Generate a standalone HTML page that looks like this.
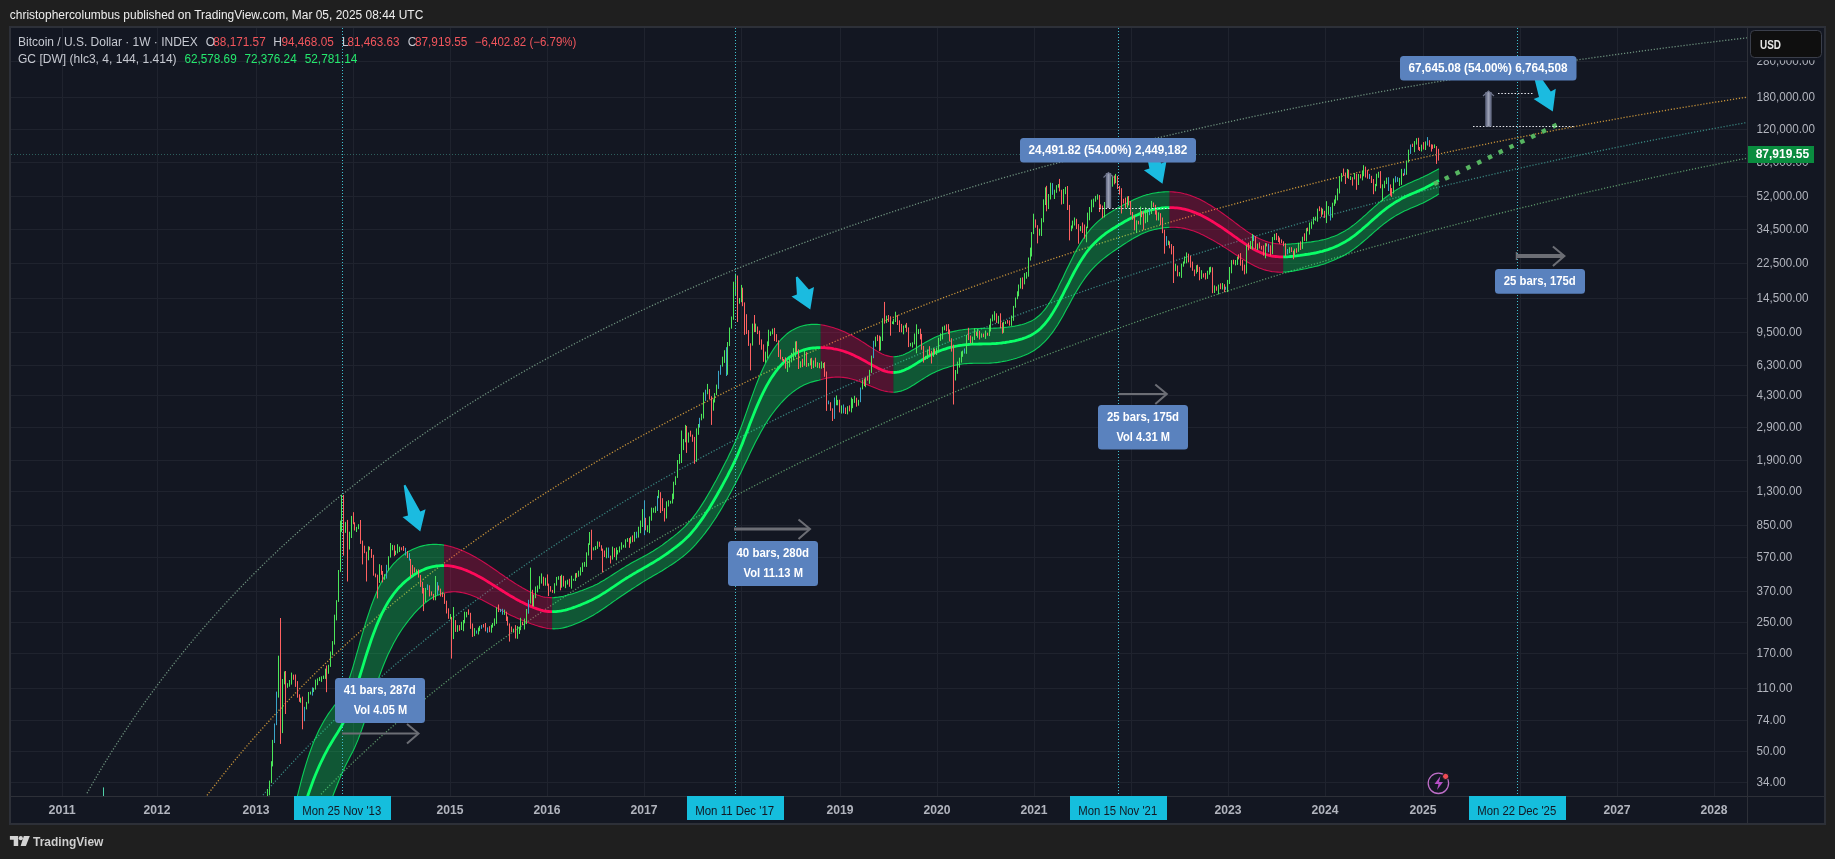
<!DOCTYPE html>
<html><head><meta charset="utf-8"><title>BTCUSD chart</title>
<style>
html,body{margin:0;padding:0;background:#1f1f1f;width:1835px;height:859px;overflow:hidden}
svg{position:absolute;left:0;top:0;font-family:"Liberation Sans",sans-serif;will-change:transform}
text{white-space:pre}
</style></head><body>
<svg width="1835" height="859" viewBox="0 0 1835 859">
<rect x="9" y="26" width="1817" height="799" fill="#2d3038"/>
<rect x="11" y="28" width="1813" height="795" fill="#131722"/>
<g>
<path d="M62.5 28V796M157.5 28V796M256.5 28V796M353.5 28V796M450.5 28V796M547.5 28V796M644.5 28V796M741.5 28V796M840.5 28V796M937.5 28V796M1034.5 28V796M1131.5 28V796M1228.5 28V796M1325.5 28V796M1423.5 28V796M1520.5 28V796M1617.5 28V796M1714.5 28V796M11 61.5H1747M11 97.5H1747M11 129.5H1747M11 162.5H1747M11 196.5H1747M11 229.5H1747M11 263.5H1747M11 298.5H1747M11 332.5H1747M11 365.5H1747M11 395.5H1747M11 427.5H1747M11 460.5H1747M11 491.5H1747M11 525.5H1747M11 557.5H1747M11 591.5H1747M11 622.5H1747M11 653.5H1747M11 688.5H1747M11 720.5H1747M11 751.5H1747M11 782.5H1747" stroke="#1f232e" stroke-width="1" fill="none"/>
<path d="M87.0 793.2L89.0 789.7L91.0 786.2L93.0 782.7L95.0 779.3L97.0 775.9L99.0 772.5L101.0 769.2L103.0 765.8L105.0 762.5L107.0 759.3L109.0 756.0L111.0 752.8L113.0 749.7L115.0 746.5L117.0 743.4L119.0 740.3L121.0 737.2L123.0 734.1L125.0 731.1L127.0 728.1L129.0 725.1L131.0 722.2L133.0 719.2L135.0 716.3L137.0 713.4L139.0 710.6L141.0 707.7L143.0 704.9L145.0 702.1L147.0 699.3L149.0 696.5L151.0 693.8L153.0 691.1L155.0 688.3L157.0 685.7L159.0 683.0L161.0 680.3L163.0 677.7L165.0 675.1L167.0 672.5L169.0 669.9L171.0 667.3L173.0 664.8L175.0 662.3L177.0 659.8L179.0 657.3L181.0 654.8L183.0 652.3L185.0 649.9L187.0 647.4L189.0 645.0L191.0 642.6L193.0 640.2L195.0 637.8L197.0 635.5L199.0 633.1L201.0 630.8L203.0 628.5L205.0 626.2L207.0 623.9L209.0 621.6L211.0 619.4L213.0 617.1L215.0 614.9L217.0 612.7L219.0 610.5L221.0 608.3L223.0 606.1L225.0 603.9L227.0 601.7L229.0 599.6L231.0 597.5L233.0 595.3L235.0 593.2L237.0 591.1L239.0 589.0L241.0 587.0L243.0 584.9L245.0 582.8L247.0 580.8L249.0 578.8L251.0 576.7L253.0 574.7L255.0 572.7L257.0 570.7L259.0 568.8L261.0 566.8L263.0 564.8L265.0 562.9L267.0 560.9L269.0 559.0L271.0 557.1L273.0 555.2L275.0 553.3L277.0 551.4L279.0 549.5L281.0 547.6L283.0 545.8L285.0 543.9L287.0 542.1L289.0 540.2L291.0 538.4L293.0 536.6L295.0 534.8L297.0 533.0L299.0 531.2L301.0 529.4L303.0 527.6L305.0 525.9L307.0 524.1L309.0 522.4L311.0 520.6L313.0 518.9L315.0 517.2L317.0 515.5L319.0 513.7L321.0 512.0L323.0 510.3L325.0 508.7L327.0 507.0L329.0 505.3L331.0 503.6L333.0 502.0L335.0 500.3L337.0 498.7L339.0 497.1L341.0 495.4L343.0 493.8L345.0 492.2L347.0 490.6L349.0 489.0L351.0 487.4L353.0 485.8L355.0 484.3L357.0 482.7L359.0 481.1L361.0 479.6L363.0 478.0L365.0 476.5L367.0 474.9L369.0 473.4L371.0 471.9L373.0 470.4L375.0 468.8L377.0 467.3L379.0 465.8L381.0 464.4L383.0 462.9L385.0 461.4L387.0 459.9L389.0 458.4L391.0 457.0L393.0 455.5L395.0 454.1L397.0 452.6L399.0 451.2L401.0 449.8L403.0 448.3L405.0 446.9L407.0 445.5L409.0 444.1L411.0 442.7L413.0 441.3L415.0 439.9L417.0 438.5L419.0 437.1L421.0 435.7L423.0 434.4L425.0 433.0L427.0 431.6L429.0 430.3L431.0 428.9L433.0 427.6L435.0 426.2L437.0 424.9L439.0 423.6L441.0 422.2L443.0 420.9L445.0 419.6L447.0 418.3L449.0 417.0L451.0 415.7L453.0 414.4L455.0 413.1L457.0 411.8L459.0 410.5L461.0 409.3L463.0 408.0L465.0 406.7L467.0 405.5L469.0 404.2L471.0 403.0L473.0 401.7L475.0 400.5L477.0 399.2L479.0 398.0L481.0 396.8L483.0 395.5L485.0 394.3L487.0 393.1L489.0 391.9L491.0 390.7L493.0 389.5L495.0 388.3L497.0 387.1L499.0 385.9L501.0 384.7L503.0 383.5L505.0 382.3L507.0 381.2L509.0 380.0L511.0 378.8L513.0 377.7L515.0 376.5L517.0 375.3L519.0 374.2L521.0 373.0L523.0 371.9L525.0 370.8L527.0 369.6L529.0 368.5L531.0 367.4L533.0 366.2L535.0 365.1L537.0 364.0L539.0 362.9L541.0 361.8L543.0 360.7L545.0 359.6L547.0 358.5L549.0 357.4L551.0 356.3L553.0 355.2L555.0 354.1L557.0 353.1L559.0 352.0L561.0 350.9L563.0 349.9L565.0 348.8L567.0 347.7L569.0 346.7L571.0 345.6L573.0 344.6L575.0 343.5L577.0 342.5L579.0 341.4L581.0 340.4L583.0 339.4L585.0 338.3L587.0 337.3L589.0 336.3L591.0 335.3L593.0 334.3L595.0 333.2L597.0 332.2L599.0 331.2L601.0 330.2L603.0 329.2L605.0 328.2L607.0 327.2L609.0 326.2L611.0 325.2L613.0 324.3L615.0 323.3L617.0 322.3L619.0 321.3L621.0 320.4L623.0 319.4L625.0 318.4L627.0 317.5L629.0 316.5L631.0 315.5L633.0 314.6L635.0 313.6L637.0 312.7L639.0 311.7L641.0 310.8L643.0 309.9L645.0 308.9L647.0 308.0L649.0 307.1L651.0 306.1L653.0 305.2L655.0 304.3L657.0 303.4L659.0 302.4L661.0 301.5L663.0 300.6L665.0 299.7L667.0 298.8L669.0 297.9L671.0 297.0L673.0 296.1L675.0 295.2L677.0 294.3L679.0 293.4L681.0 292.5L683.0 291.7L685.0 290.8L687.0 289.9L689.0 289.0L691.0 288.2L693.0 287.3L695.0 286.4L697.0 285.6L699.0 284.7L701.0 283.8L703.0 283.0L705.0 282.1L707.0 281.3L709.0 280.4L711.0 279.6L713.0 278.7L715.0 277.9L717.0 277.0L719.0 276.2L721.0 275.4L723.0 274.5L725.0 273.7L727.0 272.9L729.0 272.0L731.0 271.2L733.0 270.4L735.0 269.6L737.0 268.8L739.0 267.9L741.0 267.1L743.0 266.3L745.0 265.5L747.0 264.7L749.0 263.9L751.0 263.1L753.0 262.3L755.0 261.5L757.0 260.7L759.0 259.9L761.0 259.1L763.0 258.4L765.0 257.6L767.0 256.8L769.0 256.0L771.0 255.2L773.0 254.5L775.0 253.7L777.0 252.9L779.0 252.1L781.0 251.4L783.0 250.6L785.0 249.9L787.0 249.1L789.0 248.3L791.0 247.6L793.0 246.8L795.0 246.1L797.0 245.3L799.0 244.6L801.0 243.8L803.0 243.1L805.0 242.3L807.0 241.6L809.0 240.9L811.0 240.1L813.0 239.4L815.0 238.7L817.0 237.9L819.0 237.2L821.0 236.5L823.0 235.8L825.0 235.0L827.0 234.3L829.0 233.6L831.0 232.9L833.0 232.2L835.0 231.5L837.0 230.8L839.0 230.0L841.0 229.3L843.0 228.6L845.0 227.9L847.0 227.2L849.0 226.5L851.0 225.8L853.0 225.1L855.0 224.5L857.0 223.8L859.0 223.1L861.0 222.4L863.0 221.7L865.0 221.0L867.0 220.3L869.0 219.7L871.0 219.0L873.0 218.3L875.0 217.6L877.0 217.0L879.0 216.3L881.0 215.6L883.0 215.0L885.0 214.3L887.0 213.6L889.0 213.0L891.0 212.3L893.0 211.6L895.0 211.0L897.0 210.3L899.0 209.7L901.0 209.0L903.0 208.4L905.0 207.7L907.0 207.1L909.0 206.4L911.0 205.8L913.0 205.2L915.0 204.5L917.0 203.9L919.0 203.2L921.0 202.6L923.0 202.0L925.0 201.3L927.0 200.7L929.0 200.1L931.0 199.5L933.0 198.8L935.0 198.2L937.0 197.6L939.0 197.0L941.0 196.4L943.0 195.7L945.0 195.1L947.0 194.5L949.0 193.9L951.0 193.3L953.0 192.7L955.0 192.1L957.0 191.5L959.0 190.9L961.0 190.3L963.0 189.7L965.0 189.1L967.0 188.5L969.0 187.9L971.0 187.3L973.0 186.7L975.0 186.1L977.0 185.5L979.0 184.9L981.0 184.3L983.0 183.7L985.0 183.1L987.0 182.6L989.0 182.0L991.0 181.4L993.0 180.8L995.0 180.3L997.0 179.7L999.0 179.1L1001.0 178.5L1003.0 178.0L1005.0 177.4L1007.0 176.8L1009.0 176.3L1011.0 175.7L1013.0 175.1L1015.0 174.6L1017.0 174.0L1019.0 173.4L1021.0 172.9L1023.0 172.3L1025.0 171.8L1027.0 171.2L1029.0 170.7L1031.0 170.1L1033.0 169.6L1035.0 169.0L1037.0 168.5L1039.0 167.9L1041.0 167.4L1043.0 166.8L1045.0 166.3L1047.0 165.8L1049.0 165.2L1051.0 164.7L1053.0 164.1L1055.0 163.6L1057.0 163.1L1059.0 162.5L1061.0 162.0L1063.0 161.5L1065.0 161.0L1067.0 160.4L1069.0 159.9L1071.0 159.4L1073.0 158.9L1075.0 158.3L1077.0 157.8L1079.0 157.3L1081.0 156.8L1083.0 156.3L1085.0 155.7L1087.0 155.2L1089.0 154.7L1091.0 154.2L1093.0 153.7L1095.0 153.2L1097.0 152.7L1099.0 152.2L1101.0 151.7L1103.0 151.2L1105.0 150.7L1107.0 150.2L1109.0 149.7L1111.0 149.2L1113.0 148.7L1115.0 148.2L1117.0 147.7L1119.0 147.2L1121.0 146.7L1123.0 146.2L1125.0 145.7L1127.0 145.2L1129.0 144.7L1131.0 144.2L1133.0 143.7L1135.0 143.3L1137.0 142.8L1139.0 142.3L1141.0 141.8L1143.0 141.3L1145.0 140.9L1147.0 140.4L1149.0 139.9L1151.0 139.4L1153.0 139.0L1155.0 138.5L1157.0 138.0L1159.0 137.5L1161.0 137.1L1163.0 136.6L1165.0 136.1L1167.0 135.7L1169.0 135.2L1171.0 134.7L1173.0 134.3L1175.0 133.8L1177.0 133.3L1179.0 132.9L1181.0 132.4L1183.0 132.0L1185.0 131.5L1187.0 131.1L1189.0 130.6L1191.0 130.2L1193.0 129.7L1195.0 129.3L1197.0 128.8L1199.0 128.4L1201.0 127.9L1203.0 127.5L1205.0 127.0L1207.0 126.6L1209.0 126.1L1211.0 125.7L1213.0 125.2L1215.0 124.8L1217.0 124.4L1219.0 123.9L1221.0 123.5L1223.0 123.1L1225.0 122.6L1227.0 122.2L1229.0 121.8L1231.0 121.3L1233.0 120.9L1235.0 120.5L1237.0 120.0L1239.0 119.6L1241.0 119.2L1243.0 118.8L1245.0 118.3L1247.0 117.9L1249.0 117.5L1251.0 117.1L1253.0 116.6L1255.0 116.2L1257.0 115.8L1259.0 115.4L1261.0 115.0L1263.0 114.5L1265.0 114.1L1267.0 113.7L1269.0 113.3L1271.0 112.9L1273.0 112.5L1275.0 112.1L1277.0 111.7L1279.0 111.3L1281.0 110.9L1283.0 110.4L1285.0 110.0L1287.0 109.6L1289.0 109.2L1291.0 108.8L1293.0 108.4L1295.0 108.0L1297.0 107.6L1299.0 107.2L1301.0 106.8L1303.0 106.4L1305.0 106.0L1307.0 105.6L1309.0 105.3L1311.0 104.9L1313.0 104.5L1315.0 104.1L1317.0 103.7L1319.0 103.3L1321.0 102.9L1323.0 102.5L1325.0 102.1L1327.0 101.8L1329.0 101.4L1331.0 101.0L1333.0 100.6L1335.0 100.2L1337.0 99.8L1339.0 99.5L1341.0 99.1L1343.0 98.7L1345.0 98.3L1347.0 97.9L1349.0 97.6L1351.0 97.2L1353.0 96.8L1355.0 96.4L1357.0 96.1L1359.0 95.7L1361.0 95.3L1363.0 95.0L1365.0 94.6L1367.0 94.2L1369.0 93.9L1371.0 93.5L1373.0 93.1L1375.0 92.8L1377.0 92.4L1379.0 92.0L1381.0 91.7L1383.0 91.3L1385.0 91.0L1387.0 90.6L1389.0 90.2L1391.0 89.9L1393.0 89.5L1395.0 89.2L1397.0 88.8L1399.0 88.5L1401.0 88.1L1403.0 87.7L1405.0 87.4L1407.0 87.0L1409.0 86.7L1411.0 86.3L1413.0 86.0L1415.0 85.7L1417.0 85.3L1419.0 85.0L1421.0 84.6L1423.0 84.3L1425.0 83.9L1427.0 83.6L1429.0 83.2L1431.0 82.9L1433.0 82.6L1435.0 82.2L1437.0 81.9L1439.0 81.5L1441.0 81.2L1443.0 80.9L1445.0 80.5L1447.0 80.2L1449.0 79.9L1451.0 79.5L1453.0 79.2L1455.0 78.9L1457.0 78.5L1459.0 78.2L1461.0 77.9L1463.0 77.5L1465.0 77.2L1467.0 76.9L1469.0 76.6L1471.0 76.2L1473.0 75.9L1475.0 75.6L1477.0 75.3L1479.0 74.9L1481.0 74.6L1483.0 74.3L1485.0 74.0L1487.0 73.7L1489.0 73.3L1491.0 73.0L1493.0 72.7L1495.0 72.4L1497.0 72.1L1499.0 71.7L1501.0 71.4L1503.0 71.1L1505.0 70.8L1507.0 70.5L1509.0 70.2L1511.0 69.9L1513.0 69.6L1515.0 69.3L1517.0 68.9L1519.0 68.6L1521.0 68.3L1523.0 68.0L1525.0 67.7L1527.0 67.4L1529.0 67.1L1531.0 66.8L1533.0 66.5L1535.0 66.2L1537.0 65.9L1539.0 65.6L1541.0 65.3L1543.0 65.0L1545.0 64.7L1547.0 64.4L1549.0 64.1L1551.0 63.8L1553.0 63.5L1555.0 63.2L1557.0 62.9L1559.0 62.6L1561.0 62.3L1563.0 62.0L1565.0 61.7L1567.0 61.4L1569.0 61.2L1571.0 60.9L1573.0 60.6L1575.0 60.3L1577.0 60.0L1579.0 59.7L1581.0 59.4L1583.0 59.1L1585.0 58.9L1587.0 58.6L1589.0 58.3L1591.0 58.0L1593.0 57.7L1595.0 57.4L1597.0 57.2L1599.0 56.9L1601.0 56.6L1603.0 56.3L1605.0 56.0L1607.0 55.8L1609.0 55.5L1611.0 55.2L1613.0 54.9L1615.0 54.7L1617.0 54.4L1619.0 54.1L1621.0 53.8L1623.0 53.6L1625.0 53.3L1627.0 53.0L1629.0 52.7L1631.0 52.5L1633.0 52.2L1635.0 51.9L1637.0 51.7L1639.0 51.4L1641.0 51.1L1643.0 50.9L1645.0 50.6L1647.0 50.3L1649.0 50.1L1651.0 49.8L1653.0 49.5L1655.0 49.3L1657.0 49.0L1659.0 48.7L1661.0 48.5L1663.0 48.2L1665.0 48.0L1667.0 47.7L1669.0 47.4L1671.0 47.2L1673.0 46.9L1675.0 46.7L1677.0 46.4L1679.0 46.2L1681.0 45.9L1683.0 45.7L1685.0 45.4L1687.0 45.1L1689.0 44.9L1691.0 44.6L1693.0 44.4L1695.0 44.1L1697.0 43.9L1699.0 43.6L1701.0 43.4L1703.0 43.1L1705.0 42.9L1707.0 42.6L1709.0 42.4L1711.0 42.2L1713.0 41.9L1715.0 41.7L1717.0 41.4L1719.0 41.2L1721.0 40.9L1723.0 40.7L1725.0 40.4L1727.0 40.2L1729.0 40.0L1731.0 39.7L1733.0 39.5L1735.0 39.2L1737.0 39.0L1739.0 38.8L1741.0 38.5L1743.0 38.3L1745.0 38.1L1747.0 37.8" stroke="#6f937f" stroke-width="1.3" stroke-dasharray="1.2 1.8" fill="none"/>
<path d="M207.0 795.4L209.0 792.7L211.0 790.1L213.0 787.5L215.0 785.0L217.0 782.4L219.0 779.9L221.0 777.3L223.0 774.8L225.0 772.3L227.0 769.9L229.0 767.4L231.0 765.0L233.0 762.5L235.0 760.1L237.0 757.7L239.0 755.3L241.0 752.9L243.0 750.6L245.0 748.2L247.0 745.9L249.0 743.6L251.0 741.3L253.0 739.0L255.0 736.7L257.0 734.4L259.0 732.2L261.0 729.9L263.0 727.7L265.0 725.5L267.0 723.3L269.0 721.1L271.0 718.9L273.0 716.7L275.0 714.5L277.0 712.4L279.0 710.2L281.0 708.1L283.0 706.0L285.0 703.9L287.0 701.8L289.0 699.7L291.0 697.6L293.0 695.6L295.0 693.5L297.0 691.5L299.0 689.4L301.0 687.4L303.0 685.4L305.0 683.4L307.0 681.4L309.0 679.4L311.0 677.4L313.0 675.5L315.0 673.5L317.0 671.6L319.0 669.6L321.0 667.7L323.0 665.8L325.0 663.9L327.0 662.0L329.0 660.1L331.0 658.2L333.0 656.3L335.0 654.4L337.0 652.6L339.0 650.7L341.0 648.9L343.0 647.0L345.0 645.2L347.0 643.4L349.0 641.6L351.0 639.8L353.0 638.0L355.0 636.2L357.0 634.4L359.0 632.6L361.0 630.8L363.0 629.1L365.0 627.3L367.0 625.6L369.0 623.8L371.0 622.1L373.0 620.4L375.0 618.7L377.0 616.9L379.0 615.2L381.0 613.5L383.0 611.8L385.0 610.2L387.0 608.5L389.0 606.8L391.0 605.1L393.0 603.5L395.0 601.8L397.0 600.2L399.0 598.6L401.0 596.9L403.0 595.3L405.0 593.7L407.0 592.1L409.0 590.5L411.0 588.8L413.0 587.3L415.0 585.7L417.0 584.1L419.0 582.5L421.0 580.9L423.0 579.4L425.0 577.8L427.0 576.2L429.0 574.7L431.0 573.1L433.0 571.6L435.0 570.1L437.0 568.6L439.0 567.0L441.0 565.5L443.0 564.0L445.0 562.5L447.0 561.0L449.0 559.5L451.0 558.0L453.0 556.5L455.0 555.0L457.0 553.6L459.0 552.1L461.0 550.6L463.0 549.2L465.0 547.7L467.0 546.3L469.0 544.8L471.0 543.4L473.0 542.0L475.0 540.5L477.0 539.1L479.0 537.7L481.0 536.3L483.0 534.9L485.0 533.5L487.0 532.0L489.0 530.7L491.0 529.3L493.0 527.9L495.0 526.5L497.0 525.1L499.0 523.7L501.0 522.4L503.0 521.0L505.0 519.6L507.0 518.3L509.0 516.9L511.0 515.6L513.0 514.2L515.0 512.9L517.0 511.6L519.0 510.2L521.0 508.9L523.0 507.6L525.0 506.3L527.0 505.0L529.0 503.7L531.0 502.3L533.0 501.0L535.0 499.8L537.0 498.5L539.0 497.2L541.0 495.9L543.0 494.6L545.0 493.3L547.0 492.1L549.0 490.8L551.0 489.5L553.0 488.3L555.0 487.0L557.0 485.7L559.0 484.5L561.0 483.2L563.0 482.0L565.0 480.8L567.0 479.5L569.0 478.3L571.0 477.1L573.0 475.8L575.0 474.6L577.0 473.4L579.0 472.2L581.0 471.0L583.0 469.8L585.0 468.6L587.0 467.4L589.0 466.2L591.0 465.0L593.0 463.8L595.0 462.6L597.0 461.4L599.0 460.3L601.0 459.1L603.0 457.9L605.0 456.7L607.0 455.6L609.0 454.4L611.0 453.3L613.0 452.1L615.0 451.0L617.0 449.8L619.0 448.7L621.0 447.5L623.0 446.4L625.0 445.2L627.0 444.1L629.0 443.0L631.0 441.9L633.0 440.7L635.0 439.6L637.0 438.5L639.0 437.4L641.0 436.3L643.0 435.2L645.0 434.1L647.0 433.0L649.0 431.9L651.0 430.8L653.0 429.7L655.0 428.6L657.0 427.5L659.0 426.4L661.0 425.3L663.0 424.3L665.0 423.2L667.0 422.1L669.0 421.1L671.0 420.0L673.0 418.9L675.0 417.9L677.0 416.8L679.0 415.8L681.0 414.7L683.0 413.7L685.0 412.6L687.0 411.6L689.0 410.5L691.0 409.5L693.0 408.5L695.0 407.4L697.0 406.4L699.0 405.4L701.0 404.4L703.0 403.3L705.0 402.3L707.0 401.3L709.0 400.3L711.0 399.3L713.0 398.3L715.0 397.3L717.0 396.3L719.0 395.3L721.0 394.3L723.0 393.3L725.0 392.3L727.0 391.3L729.0 390.3L731.0 389.3L733.0 388.3L735.0 387.4L737.0 386.4L739.0 385.4L741.0 384.5L743.0 383.5L745.0 382.5L747.0 381.6L749.0 380.6L751.0 379.6L753.0 378.7L755.0 377.7L757.0 376.8L759.0 375.8L761.0 374.9L763.0 373.9L765.0 373.0L767.0 372.1L769.0 371.1L771.0 370.2L773.0 369.3L775.0 368.3L777.0 367.4L779.0 366.5L781.0 365.5L783.0 364.6L785.0 363.7L787.0 362.8L789.0 361.9L791.0 361.0L793.0 360.1L795.0 359.2L797.0 358.3L799.0 357.4L801.0 356.5L803.0 355.6L805.0 354.7L807.0 353.8L809.0 352.9L811.0 352.0L813.0 351.1L815.0 350.2L817.0 349.3L819.0 348.5L821.0 347.6L823.0 346.7L825.0 345.8L827.0 345.0L829.0 344.1L831.0 343.2L833.0 342.4L835.0 341.5L837.0 340.6L839.0 339.8L841.0 338.9L843.0 338.1L845.0 337.2L847.0 336.4L849.0 335.5L851.0 334.7L853.0 333.8L855.0 333.0L857.0 332.1L859.0 331.3L861.0 330.5L863.0 329.6L865.0 328.8L867.0 328.0L869.0 327.1L871.0 326.3L873.0 325.5L875.0 324.7L877.0 323.9L879.0 323.0L881.0 322.2L883.0 321.4L885.0 320.6L887.0 319.8L889.0 319.0L891.0 318.2L893.0 317.4L895.0 316.6L897.0 315.8L899.0 315.0L901.0 314.2L903.0 313.4L905.0 312.6L907.0 311.8L909.0 311.0L911.0 310.2L913.0 309.4L915.0 308.7L917.0 307.9L919.0 307.1L921.0 306.3L923.0 305.5L925.0 304.8L927.0 304.0L929.0 303.2L931.0 302.4L933.0 301.7L935.0 300.9L937.0 300.2L939.0 299.4L941.0 298.6L943.0 297.9L945.0 297.1L947.0 296.4L949.0 295.6L951.0 294.9L953.0 294.1L955.0 293.4L957.0 292.6L959.0 291.9L961.0 291.1L963.0 290.4L965.0 289.7L967.0 288.9L969.0 288.2L971.0 287.4L973.0 286.7L975.0 286.0L977.0 285.3L979.0 284.5L981.0 283.8L983.0 283.1L985.0 282.4L987.0 281.6L989.0 280.9L991.0 280.2L993.0 279.5L995.0 278.8L997.0 278.1L999.0 277.4L1001.0 276.6L1003.0 275.9L1005.0 275.2L1007.0 274.5L1009.0 273.8L1011.0 273.1L1013.0 272.4L1015.0 271.7L1017.0 271.0L1019.0 270.3L1021.0 269.6L1023.0 269.0L1025.0 268.3L1027.0 267.6L1029.0 266.9L1031.0 266.2L1033.0 265.5L1035.0 264.8L1037.0 264.2L1039.0 263.5L1041.0 262.8L1043.0 262.1L1045.0 261.5L1047.0 260.8L1049.0 260.1L1051.0 259.4L1053.0 258.8L1055.0 258.1L1057.0 257.4L1059.0 256.8L1061.0 256.1L1063.0 255.5L1065.0 254.8L1067.0 254.1L1069.0 253.5L1071.0 252.8L1073.0 252.2L1075.0 251.5L1077.0 250.9L1079.0 250.2L1081.0 249.6L1083.0 248.9L1085.0 248.3L1087.0 247.6L1089.0 247.0L1091.0 246.4L1093.0 245.7L1095.0 245.1L1097.0 244.5L1099.0 243.8L1101.0 243.2L1103.0 242.6L1105.0 241.9L1107.0 241.3L1109.0 240.7L1111.0 240.0L1113.0 239.4L1115.0 238.8L1117.0 238.2L1119.0 237.6L1121.0 236.9L1123.0 236.3L1125.0 235.7L1127.0 235.1L1129.0 234.5L1131.0 233.9L1133.0 233.3L1135.0 232.6L1137.0 232.0L1139.0 231.4L1141.0 230.8L1143.0 230.2L1145.0 229.6L1147.0 229.0L1149.0 228.4L1151.0 227.8L1153.0 227.2L1155.0 226.6L1157.0 226.0L1159.0 225.4L1161.0 224.8L1163.0 224.3L1165.0 223.7L1167.0 223.1L1169.0 222.5L1171.0 221.9L1173.0 221.3L1175.0 220.7L1177.0 220.2L1179.0 219.6L1181.0 219.0L1183.0 218.4L1185.0 217.8L1187.0 217.3L1189.0 216.7L1191.0 216.1L1193.0 215.6L1195.0 215.0L1197.0 214.4L1199.0 213.8L1201.0 213.3L1203.0 212.7L1205.0 212.2L1207.0 211.6L1209.0 211.0L1211.0 210.5L1213.0 209.9L1215.0 209.4L1217.0 208.8L1219.0 208.2L1221.0 207.7L1223.0 207.1L1225.0 206.6L1227.0 206.0L1229.0 205.5L1231.0 204.9L1233.0 204.4L1235.0 203.8L1237.0 203.3L1239.0 202.8L1241.0 202.2L1243.0 201.7L1245.0 201.1L1247.0 200.6L1249.0 200.1L1251.0 199.5L1253.0 199.0L1255.0 198.5L1257.0 197.9L1259.0 197.4L1261.0 196.9L1263.0 196.3L1265.0 195.8L1267.0 195.3L1269.0 194.8L1271.0 194.2L1273.0 193.7L1275.0 193.2L1277.0 192.7L1279.0 192.1L1281.0 191.6L1283.0 191.1L1285.0 190.6L1287.0 190.1L1289.0 189.6L1291.0 189.0L1293.0 188.5L1295.0 188.0L1297.0 187.5L1299.0 187.0L1301.0 186.5L1303.0 186.0L1305.0 185.5L1307.0 185.0L1309.0 184.5L1311.0 184.0L1313.0 183.5L1315.0 183.0L1317.0 182.5L1319.0 182.0L1321.0 181.5L1323.0 181.0L1325.0 180.5L1327.0 180.0L1329.0 179.5L1331.0 179.0L1333.0 178.5L1335.0 178.0L1337.0 177.6L1339.0 177.1L1341.0 176.6L1343.0 176.1L1345.0 175.6L1347.0 175.1L1349.0 174.7L1351.0 174.2L1353.0 173.7L1355.0 173.2L1357.0 172.7L1359.0 172.3L1361.0 171.8L1363.0 171.3L1365.0 170.8L1367.0 170.4L1369.0 169.9L1371.0 169.4L1373.0 169.0L1375.0 168.5L1377.0 168.0L1379.0 167.6L1381.0 167.1L1383.0 166.6L1385.0 166.2L1387.0 165.7L1389.0 165.2L1391.0 164.8L1393.0 164.3L1395.0 163.9L1397.0 163.4L1399.0 163.0L1401.0 162.5L1403.0 162.0L1405.0 161.6L1407.0 161.1L1409.0 160.7L1411.0 160.2L1413.0 159.8L1415.0 159.3L1417.0 158.9L1419.0 158.5L1421.0 158.0L1423.0 157.6L1425.0 157.1L1427.0 156.7L1429.0 156.2L1431.0 155.8L1433.0 155.4L1435.0 154.9L1437.0 154.5L1439.0 154.0L1441.0 153.6L1443.0 153.2L1445.0 152.7L1447.0 152.3L1449.0 151.9L1451.0 151.4L1453.0 151.0L1455.0 150.6L1457.0 150.2L1459.0 149.7L1461.0 149.3L1463.0 148.9L1465.0 148.5L1467.0 148.0L1469.0 147.6L1471.0 147.2L1473.0 146.8L1475.0 146.4L1477.0 145.9L1479.0 145.5L1481.0 145.1L1483.0 144.7L1485.0 144.3L1487.0 143.9L1489.0 143.4L1491.0 143.0L1493.0 142.6L1495.0 142.2L1497.0 141.8L1499.0 141.4L1501.0 141.0L1503.0 140.6L1505.0 140.2L1507.0 139.8L1509.0 139.4L1511.0 139.0L1513.0 138.6L1515.0 138.2L1517.0 137.8L1519.0 137.4L1521.0 137.0L1523.0 136.6L1525.0 136.2L1527.0 135.8L1529.0 135.4L1531.0 135.0L1533.0 134.6L1535.0 134.2L1537.0 133.8L1539.0 133.4L1541.0 133.0L1543.0 132.6L1545.0 132.2L1547.0 131.9L1549.0 131.5L1551.0 131.1L1553.0 130.7L1555.0 130.3L1557.0 129.9L1559.0 129.5L1561.0 129.2L1563.0 128.8L1565.0 128.4L1567.0 128.0L1569.0 127.7L1571.0 127.3L1573.0 126.9L1575.0 126.5L1577.0 126.1L1579.0 125.8L1581.0 125.4L1583.0 125.0L1585.0 124.7L1587.0 124.3L1589.0 123.9L1591.0 123.5L1593.0 123.2L1595.0 122.8L1597.0 122.4L1599.0 122.1L1601.0 121.7L1603.0 121.3L1605.0 121.0L1607.0 120.6L1609.0 120.3L1611.0 119.9L1613.0 119.5L1615.0 119.2L1617.0 118.8L1619.0 118.5L1621.0 118.1L1623.0 117.8L1625.0 117.4L1627.0 117.0L1629.0 116.7L1631.0 116.3L1633.0 116.0L1635.0 115.6L1637.0 115.3L1639.0 114.9L1641.0 114.6L1643.0 114.2L1645.0 113.9L1647.0 113.5L1649.0 113.2L1651.0 112.9L1653.0 112.5L1655.0 112.2L1657.0 111.8L1659.0 111.5L1661.0 111.1L1663.0 110.8L1665.0 110.5L1667.0 110.1L1669.0 109.8L1671.0 109.4L1673.0 109.1L1675.0 108.8L1677.0 108.4L1679.0 108.1L1681.0 107.8L1683.0 107.4L1685.0 107.1L1687.0 106.8L1689.0 106.4L1691.0 106.1L1693.0 105.8L1695.0 105.5L1697.0 105.1L1699.0 104.8L1701.0 104.5L1703.0 104.1L1705.0 103.8L1707.0 103.5L1709.0 103.2L1711.0 102.9L1713.0 102.5L1715.0 102.2L1717.0 101.9L1719.0 101.6L1721.0 101.3L1723.0 100.9L1725.0 100.6L1727.0 100.3L1729.0 100.0L1731.0 99.7L1733.0 99.4L1735.0 99.0L1737.0 98.7L1739.0 98.4L1741.0 98.1L1743.0 97.8L1745.0 97.5L1747.0 97.2" stroke="#c8943a" stroke-width="1.3" stroke-dasharray="1.2 1.8" fill="none"/>
<path d="M263.0 795.0L265.0 792.8L267.0 790.5L269.0 788.2L271.0 786.0L273.0 783.7L275.0 781.5L277.0 779.3L279.0 777.1L281.0 774.9L283.0 772.7L285.0 770.5L287.0 768.4L289.0 766.2L291.0 764.1L293.0 762.0L295.0 759.9L297.0 757.7L299.0 755.6L301.0 753.6L303.0 751.5L305.0 749.4L307.0 747.3L309.0 745.3L311.0 743.3L313.0 741.2L315.0 739.2L317.0 737.2L319.0 735.2L321.0 733.2L323.0 731.2L325.0 729.2L327.0 727.3L329.0 725.3L331.0 723.3L333.0 721.4L335.0 719.5L337.0 717.5L339.0 715.6L341.0 713.7L343.0 711.8L345.0 709.9L347.0 708.0L349.0 706.1L351.0 704.3L353.0 702.4L355.0 700.5L357.0 698.7L359.0 696.9L361.0 695.0L363.0 693.2L365.0 691.4L367.0 689.6L369.0 687.8L371.0 686.0L373.0 684.2L375.0 682.4L377.0 680.6L379.0 678.8L381.0 677.1L383.0 675.3L385.0 673.6L387.0 671.8L389.0 670.1L391.0 668.4L393.0 666.6L395.0 664.9L397.0 663.2L399.0 661.5L401.0 659.8L403.0 658.1L405.0 656.4L407.0 654.8L409.0 653.1L411.0 651.4L413.0 649.8L415.0 648.1L417.0 646.4L419.0 644.8L421.0 643.2L423.0 641.5L425.0 639.9L427.0 638.3L429.0 636.7L431.0 635.1L433.0 633.5L435.0 631.9L437.0 630.3L439.0 628.7L441.0 627.1L443.0 625.5L445.0 624.0L447.0 622.4L449.0 620.8L451.0 619.3L453.0 617.7L455.0 616.2L457.0 614.7L459.0 613.1L461.0 611.6L463.0 610.1L465.0 608.5L467.0 607.0L469.0 605.5L471.0 604.0L473.0 602.5L475.0 601.0L477.0 599.5L479.0 598.1L481.0 596.6L483.0 595.1L485.0 593.6L487.0 592.2L489.0 590.7L491.0 589.3L493.0 587.8L495.0 586.4L497.0 584.9L499.0 583.5L501.0 582.0L503.0 580.6L505.0 579.2L507.0 577.8L509.0 576.4L511.0 574.9L513.0 573.5L515.0 572.1L517.0 570.7L519.0 569.3L521.0 568.0L523.0 566.6L525.0 565.2L527.0 563.8L529.0 562.4L531.0 561.1L533.0 559.7L535.0 558.3L537.0 557.0L539.0 555.6L541.0 554.3L543.0 552.9L545.0 551.6L547.0 550.3L549.0 548.9L551.0 547.6L553.0 546.3L555.0 545.0L557.0 543.6L559.0 542.3L561.0 541.0L563.0 539.7L565.0 538.4L567.0 537.1L569.0 535.8L571.0 534.5L573.0 533.3L575.0 532.0L577.0 530.7L579.0 529.4L581.0 528.1L583.0 526.9L585.0 525.6L587.0 524.3L589.0 523.1L591.0 521.8L593.0 520.6L595.0 519.3L597.0 518.1L599.0 516.9L601.0 515.6L603.0 514.4L605.0 513.2L607.0 511.9L609.0 510.7L611.0 509.5L613.0 508.3L615.0 507.1L617.0 505.8L619.0 504.6L621.0 503.4L623.0 502.2L625.0 501.0L627.0 499.8L629.0 498.6L631.0 497.5L633.0 496.3L635.0 495.1L637.0 493.9L639.0 492.7L641.0 491.6L643.0 490.4L645.0 489.2L647.0 488.1L649.0 486.9L651.0 485.8L653.0 484.6L655.0 483.5L657.0 482.3L659.0 481.2L661.0 480.0L663.0 478.9L665.0 477.8L667.0 476.6L669.0 475.5L671.0 474.4L673.0 473.2L675.0 472.1L677.0 471.0L679.0 469.9L681.0 468.8L683.0 467.7L685.0 466.6L687.0 465.5L689.0 464.4L691.0 463.3L693.0 462.2L695.0 461.1L697.0 460.0L699.0 458.9L701.0 457.8L703.0 456.7L705.0 455.7L707.0 454.6L709.0 453.5L711.0 452.4L713.0 451.4L715.0 450.3L717.0 449.3L719.0 448.2L721.0 447.1L723.0 446.1L725.0 445.0L727.0 444.0L729.0 442.9L731.0 441.9L733.0 440.9L735.0 439.8L737.0 438.8L739.0 437.7L741.0 436.7L743.0 435.7L745.0 434.7L747.0 433.6L749.0 432.6L751.0 431.6L753.0 430.6L755.0 429.6L757.0 428.6L759.0 427.6L761.0 426.5L763.0 425.5L765.0 424.5L767.0 423.5L769.0 422.5L771.0 421.6L773.0 420.6L775.0 419.6L777.0 418.6L779.0 417.6L781.0 416.6L783.0 415.6L785.0 414.7L787.0 413.7L789.0 412.7L791.0 411.8L793.0 410.8L795.0 409.8L797.0 408.9L799.0 407.9L801.0 406.9L803.0 406.0L805.0 405.0L807.0 404.1L809.0 403.1L811.0 402.2L813.0 401.2L815.0 400.3L817.0 399.3L819.0 398.4L821.0 397.5L823.0 396.5L825.0 395.6L827.0 394.7L829.0 393.8L831.0 392.8L833.0 391.9L835.0 391.0L837.0 390.1L839.0 389.1L841.0 388.2L843.0 387.3L845.0 386.4L847.0 385.5L849.0 384.6L851.0 383.7L853.0 382.8L855.0 381.9L857.0 381.0L859.0 380.1L861.0 379.2L863.0 378.3L865.0 377.4L867.0 376.5L869.0 375.6L871.0 374.8L873.0 373.9L875.0 373.0L877.0 372.1L879.0 371.2L881.0 370.4L883.0 369.5L885.0 368.6L887.0 367.8L889.0 366.9L891.0 366.0L893.0 365.2L895.0 364.3L897.0 363.5L899.0 362.6L901.0 361.7L903.0 360.9L905.0 360.0L907.0 359.2L909.0 358.3L911.0 357.5L913.0 356.7L915.0 355.8L917.0 355.0L919.0 354.1L921.0 353.3L923.0 352.5L925.0 351.6L927.0 350.8L929.0 350.0L931.0 349.2L933.0 348.3L935.0 347.5L937.0 346.7L939.0 345.9L941.0 345.1L943.0 344.2L945.0 343.4L947.0 342.6L949.0 341.8L951.0 341.0L953.0 340.2L955.0 339.4L957.0 338.6L959.0 337.8L961.0 337.0L963.0 336.2L965.0 335.4L967.0 334.6L969.0 333.8L971.0 333.0L973.0 332.2L975.0 331.4L977.0 330.7L979.0 329.9L981.0 329.1L983.0 328.3L985.0 327.5L987.0 326.8L989.0 326.0L991.0 325.2L993.0 324.4L995.0 323.7L997.0 322.9L999.0 322.1L1001.0 321.4L1003.0 320.6L1005.0 319.8L1007.0 319.1L1009.0 318.3L1011.0 317.6L1013.0 316.8L1015.0 316.1L1017.0 315.3L1019.0 314.6L1021.0 313.8L1023.0 313.1L1025.0 312.3L1027.0 311.6L1029.0 310.8L1031.0 310.1L1033.0 309.4L1035.0 308.6L1037.0 307.9L1039.0 307.1L1041.0 306.4L1043.0 305.7L1045.0 305.0L1047.0 304.2L1049.0 303.5L1051.0 302.8L1053.0 302.1L1055.0 301.3L1057.0 300.6L1059.0 299.9L1061.0 299.2L1063.0 298.5L1065.0 297.7L1067.0 297.0L1069.0 296.3L1071.0 295.6L1073.0 294.9L1075.0 294.2L1077.0 293.5L1079.0 292.8L1081.0 292.1L1083.0 291.4L1085.0 290.7L1087.0 290.0L1089.0 289.3L1091.0 288.6L1093.0 287.9L1095.0 287.2L1097.0 286.5L1099.0 285.8L1101.0 285.1L1103.0 284.5L1105.0 283.8L1107.0 283.1L1109.0 282.4L1111.0 281.7L1113.0 281.0L1115.0 280.4L1117.0 279.7L1119.0 279.0L1121.0 278.3L1123.0 277.7L1125.0 277.0L1127.0 276.3L1129.0 275.7L1131.0 275.0L1133.0 274.3L1135.0 273.7L1137.0 273.0L1139.0 272.3L1141.0 271.7L1143.0 271.0L1145.0 270.4L1147.0 269.7L1149.0 269.1L1151.0 268.4L1153.0 267.8L1155.0 267.1L1157.0 266.5L1159.0 265.8L1161.0 265.2L1163.0 264.5L1165.0 263.9L1167.0 263.2L1169.0 262.6L1171.0 262.0L1173.0 261.3L1175.0 260.7L1177.0 260.0L1179.0 259.4L1181.0 258.8L1183.0 258.1L1185.0 257.5L1187.0 256.9L1189.0 256.3L1191.0 255.6L1193.0 255.0L1195.0 254.4L1197.0 253.8L1199.0 253.1L1201.0 252.5L1203.0 251.9L1205.0 251.3L1207.0 250.7L1209.0 250.1L1211.0 249.4L1213.0 248.8L1215.0 248.2L1217.0 247.6L1219.0 247.0L1221.0 246.4L1223.0 245.8L1225.0 245.2L1227.0 244.6L1229.0 244.0L1231.0 243.4L1233.0 242.8L1235.0 242.2L1237.0 241.6L1239.0 241.0L1241.0 240.4L1243.0 239.8L1245.0 239.2L1247.0 238.6L1249.0 238.0L1251.0 237.4L1253.0 236.8L1255.0 236.3L1257.0 235.7L1259.0 235.1L1261.0 234.5L1263.0 233.9L1265.0 233.3L1267.0 232.8L1269.0 232.2L1271.0 231.6L1273.0 231.0L1275.0 230.5L1277.0 229.9L1279.0 229.3L1281.0 228.7L1283.0 228.2L1285.0 227.6L1287.0 227.0L1289.0 226.5L1291.0 225.9L1293.0 225.3L1295.0 224.8L1297.0 224.2L1299.0 223.6L1301.0 223.1L1303.0 222.5L1305.0 222.0L1307.0 221.4L1309.0 220.9L1311.0 220.3L1313.0 219.7L1315.0 219.2L1317.0 218.6L1319.0 218.1L1321.0 217.5L1323.0 217.0L1325.0 216.5L1327.0 215.9L1329.0 215.4L1331.0 214.8L1333.0 214.3L1335.0 213.7L1337.0 213.2L1339.0 212.7L1341.0 212.1L1343.0 211.6L1345.0 211.0L1347.0 210.5L1349.0 210.0L1351.0 209.4L1353.0 208.9L1355.0 208.4L1357.0 207.9L1359.0 207.3L1361.0 206.8L1363.0 206.3L1365.0 205.7L1367.0 205.2L1369.0 204.7L1371.0 204.2L1373.0 203.7L1375.0 203.1L1377.0 202.6L1379.0 202.1L1381.0 201.6L1383.0 201.1L1385.0 200.6L1387.0 200.0L1389.0 199.5L1391.0 199.0L1393.0 198.5L1395.0 198.0L1397.0 197.5L1399.0 197.0L1401.0 196.5L1403.0 196.0L1405.0 195.5L1407.0 195.0L1409.0 194.5L1411.0 194.0L1413.0 193.5L1415.0 193.0L1417.0 192.5L1419.0 192.0L1421.0 191.5L1423.0 191.0L1425.0 190.5L1427.0 190.0L1429.0 189.5L1431.0 189.0L1433.0 188.5L1435.0 188.0L1437.0 187.5L1439.0 187.0L1441.0 186.6L1443.0 186.1L1445.0 185.6L1447.0 185.1L1449.0 184.6L1451.0 184.1L1453.0 183.7L1455.0 183.2L1457.0 182.7L1459.0 182.2L1461.0 181.7L1463.0 181.3L1465.0 180.8L1467.0 180.3L1469.0 179.8L1471.0 179.4L1473.0 178.9L1475.0 178.4L1477.0 178.0L1479.0 177.5L1481.0 177.0L1483.0 176.6L1485.0 176.1L1487.0 175.6L1489.0 175.2L1491.0 174.7L1493.0 174.2L1495.0 173.8L1497.0 173.3L1499.0 172.9L1501.0 172.4L1503.0 171.9L1505.0 171.5L1507.0 171.0L1509.0 170.6L1511.0 170.1L1513.0 169.7L1515.0 169.2L1517.0 168.8L1519.0 168.3L1521.0 167.9L1523.0 167.4L1525.0 167.0L1527.0 166.5L1529.0 166.1L1531.0 165.6L1533.0 165.2L1535.0 164.8L1537.0 164.3L1539.0 163.9L1541.0 163.4L1543.0 163.0L1545.0 162.6L1547.0 162.1L1549.0 161.7L1551.0 161.2L1553.0 160.8L1555.0 160.4L1557.0 159.9L1559.0 159.5L1561.0 159.1L1563.0 158.6L1565.0 158.2L1567.0 157.8L1569.0 157.4L1571.0 156.9L1573.0 156.5L1575.0 156.1L1577.0 155.7L1579.0 155.2L1581.0 154.8L1583.0 154.4L1585.0 154.0L1587.0 153.5L1589.0 153.1L1591.0 152.7L1593.0 152.3L1595.0 151.9L1597.0 151.5L1599.0 151.0L1601.0 150.6L1603.0 150.2L1605.0 149.8L1607.0 149.4L1609.0 149.0L1611.0 148.6L1613.0 148.1L1615.0 147.7L1617.0 147.3L1619.0 146.9L1621.0 146.5L1623.0 146.1L1625.0 145.7L1627.0 145.3L1629.0 144.9L1631.0 144.5L1633.0 144.1L1635.0 143.7L1637.0 143.3L1639.0 142.9L1641.0 142.5L1643.0 142.1L1645.0 141.7L1647.0 141.3L1649.0 140.9L1651.0 140.5L1653.0 140.1L1655.0 139.7L1657.0 139.3L1659.0 138.9L1661.0 138.6L1663.0 138.2L1665.0 137.8L1667.0 137.4L1669.0 137.0L1671.0 136.6L1673.0 136.2L1675.0 135.8L1677.0 135.5L1679.0 135.1L1681.0 134.7L1683.0 134.3L1685.0 133.9L1687.0 133.6L1689.0 133.2L1691.0 132.8L1693.0 132.4L1695.0 132.0L1697.0 131.7L1699.0 131.3L1701.0 130.9L1703.0 130.5L1705.0 130.2L1707.0 129.8L1709.0 129.4L1711.0 129.0L1713.0 128.7L1715.0 128.3L1717.0 127.9L1719.0 127.6L1721.0 127.2L1723.0 126.8L1725.0 126.5L1727.0 126.1L1729.0 125.7L1731.0 125.4L1733.0 125.0L1735.0 124.6L1737.0 124.3L1739.0 123.9L1741.0 123.6L1743.0 123.2L1745.0 122.8L1747.0 122.5" stroke="#39857f" stroke-width="1.3" stroke-dasharray="1.2 1.8" fill="none"/>
<path d="M321.0 794.3L323.0 792.2L325.0 790.2L327.0 788.1L329.0 786.1L331.0 784.1L333.0 782.1L335.0 780.1L337.0 778.1L339.0 776.1L341.0 774.2L343.0 772.2L345.0 770.2L347.0 768.3L349.0 766.4L351.0 764.4L353.0 762.5L355.0 760.6L357.0 758.7L359.0 756.8L361.0 755.0L363.0 753.1L365.0 751.2L367.0 749.4L369.0 747.5L371.0 745.7L373.0 743.9L375.0 742.0L377.0 740.2L379.0 738.4L381.0 736.6L383.0 734.8L385.0 733.1L387.0 731.3L389.0 729.5L391.0 727.8L393.0 726.0L395.0 724.3L397.0 722.5L399.0 720.8L401.0 719.1L403.0 717.3L405.0 715.6L407.0 713.9L409.0 712.2L411.0 710.5L413.0 708.8L415.0 707.2L417.0 705.5L419.0 703.8L421.0 702.2L423.0 700.5L425.0 698.9L427.0 697.2L429.0 695.6L431.0 694.0L433.0 692.3L435.0 690.7L437.0 689.1L439.0 687.5L441.0 685.9L443.0 684.3L445.0 682.7L447.0 681.2L449.0 679.6L451.0 678.0L453.0 676.4L455.0 674.9L457.0 673.3L459.0 671.8L461.0 670.2L463.0 668.7L465.0 667.2L467.0 665.6L469.0 664.1L471.0 662.6L473.0 661.1L475.0 659.6L477.0 658.1L479.0 656.6L481.0 655.1L483.0 653.6L485.0 652.1L487.0 650.6L489.0 649.1L491.0 647.7L493.0 646.2L495.0 644.7L497.0 643.3L499.0 641.8L501.0 640.4L503.0 639.0L505.0 637.5L507.0 636.1L509.0 634.7L511.0 633.2L513.0 631.8L515.0 630.4L517.0 629.0L519.0 627.6L521.0 626.2L523.0 624.8L525.0 623.4L527.0 622.0L529.0 620.6L531.0 619.2L533.0 617.8L535.0 616.5L537.0 615.1L539.0 613.7L541.0 612.4L543.0 611.0L545.0 609.7L547.0 608.3L549.0 607.0L551.0 605.6L553.0 604.3L555.0 603.0L557.0 601.6L559.0 600.3L561.0 599.0L563.0 597.7L565.0 596.3L567.0 595.0L569.0 593.7L571.0 592.4L573.0 591.1L575.0 589.8L577.0 588.5L579.0 587.2L581.0 585.9L583.0 584.7L585.0 583.4L587.0 582.1L589.0 580.8L591.0 579.6L593.0 578.3L595.0 577.0L597.0 575.8L599.0 574.5L601.0 573.3L603.0 572.0L605.0 570.8L607.0 569.5L609.0 568.3L611.0 567.0L613.0 565.8L615.0 564.6L617.0 563.3L619.0 562.1L621.0 560.9L623.0 559.7L625.0 558.5L627.0 557.3L629.0 556.0L631.0 554.8L633.0 553.6L635.0 552.4L637.0 551.2L639.0 550.0L641.0 548.9L643.0 547.7L645.0 546.5L647.0 545.3L649.0 544.1L651.0 542.9L653.0 541.8L655.0 540.6L657.0 539.4L659.0 538.3L661.0 537.1L663.0 535.9L665.0 534.8L667.0 533.6L669.0 532.5L671.0 531.3L673.0 530.2L675.0 529.1L677.0 527.9L679.0 526.8L681.0 525.6L683.0 524.5L685.0 523.4L687.0 522.3L689.0 521.1L691.0 520.0L693.0 518.9L695.0 517.8L697.0 516.7L699.0 515.6L701.0 514.5L703.0 513.4L705.0 512.2L707.0 511.2L709.0 510.1L711.0 509.0L713.0 507.9L715.0 506.8L717.0 505.7L719.0 504.6L721.0 503.5L723.0 502.4L725.0 501.4L727.0 500.3L729.0 499.2L731.0 498.2L733.0 497.1L735.0 496.0L737.0 495.0L739.0 493.9L741.0 492.8L743.0 491.8L745.0 490.7L747.0 489.7L749.0 488.6L751.0 487.6L753.0 486.5L755.0 485.5L757.0 484.5L759.0 483.4L761.0 482.4L763.0 481.4L765.0 480.3L767.0 479.3L769.0 478.3L771.0 477.3L773.0 476.2L775.0 475.2L777.0 474.2L779.0 473.2L781.0 472.2L783.0 471.2L785.0 470.2L787.0 469.2L789.0 468.2L791.0 467.2L793.0 466.2L795.0 465.2L797.0 464.2L799.0 463.2L801.0 462.2L803.0 461.2L805.0 460.2L807.0 459.2L809.0 458.3L811.0 457.3L813.0 456.3L815.0 455.3L817.0 454.3L819.0 453.4L821.0 452.4L823.0 451.4L825.0 450.5L827.0 449.5L829.0 448.6L831.0 447.6L833.0 446.6L835.0 445.7L837.0 444.7L839.0 443.8L841.0 442.8L843.0 441.9L845.0 440.9L847.0 440.0L849.0 439.1L851.0 438.1L853.0 437.2L855.0 436.3L857.0 435.3L859.0 434.4L861.0 433.5L863.0 432.5L865.0 431.6L867.0 430.7L869.0 429.8L871.0 428.8L873.0 427.9L875.0 427.0L877.0 426.1L879.0 425.2L881.0 424.3L883.0 423.4L885.0 422.5L887.0 421.6L889.0 420.7L891.0 419.8L893.0 418.9L895.0 418.0L897.0 417.1L899.0 416.2L901.0 415.3L903.0 414.4L905.0 413.5L907.0 412.6L909.0 411.7L911.0 410.9L913.0 410.0L915.0 409.1L917.0 408.2L919.0 407.4L921.0 406.5L923.0 405.6L925.0 404.7L927.0 403.9L929.0 403.0L931.0 402.1L933.0 401.3L935.0 400.4L937.0 399.6L939.0 398.7L941.0 397.8L943.0 397.0L945.0 396.1L947.0 395.3L949.0 394.4L951.0 393.6L953.0 392.7L955.0 391.9L957.0 391.1L959.0 390.2L961.0 389.4L963.0 388.5L965.0 387.7L967.0 386.9L969.0 386.0L971.0 385.2L973.0 384.4L975.0 383.6L977.0 382.7L979.0 381.9L981.0 381.1L983.0 380.3L985.0 379.4L987.0 378.6L989.0 377.8L991.0 377.0L993.0 376.2L995.0 375.4L997.0 374.6L999.0 373.8L1001.0 373.0L1003.0 372.1L1005.0 371.3L1007.0 370.5L1009.0 369.7L1011.0 368.9L1013.0 368.2L1015.0 367.4L1017.0 366.6L1019.0 365.8L1021.0 365.0L1023.0 364.2L1025.0 363.4L1027.0 362.6L1029.0 361.8L1031.0 361.1L1033.0 360.3L1035.0 359.5L1037.0 358.7L1039.0 357.9L1041.0 357.2L1043.0 356.4L1045.0 355.6L1047.0 354.8L1049.0 354.1L1051.0 353.3L1053.0 352.5L1055.0 351.8L1057.0 351.0L1059.0 350.3L1061.0 349.5L1063.0 348.7L1065.0 348.0L1067.0 347.2L1069.0 346.5L1071.0 345.7L1073.0 345.0L1075.0 344.2L1077.0 343.5L1079.0 342.7L1081.0 342.0L1083.0 341.2L1085.0 340.5L1087.0 339.7L1089.0 339.0L1091.0 338.3L1093.0 337.5L1095.0 336.8L1097.0 336.1L1099.0 335.3L1101.0 334.6L1103.0 333.9L1105.0 333.1L1107.0 332.4L1109.0 331.7L1111.0 331.0L1113.0 330.2L1115.0 329.5L1117.0 328.8L1119.0 328.1L1121.0 327.4L1123.0 326.6L1125.0 325.9L1127.0 325.2L1129.0 324.5L1131.0 323.8L1133.0 323.1L1135.0 322.4L1137.0 321.7L1139.0 321.0L1141.0 320.3L1143.0 319.6L1145.0 318.8L1147.0 318.1L1149.0 317.5L1151.0 316.8L1153.0 316.1L1155.0 315.4L1157.0 314.7L1159.0 314.0L1161.0 313.3L1163.0 312.6L1165.0 311.9L1167.0 311.2L1169.0 310.5L1171.0 309.9L1173.0 309.2L1175.0 308.5L1177.0 307.8L1179.0 307.1L1181.0 306.5L1183.0 305.8L1185.0 305.1L1187.0 304.4L1189.0 303.8L1191.0 303.1L1193.0 302.4L1195.0 301.7L1197.0 301.1L1199.0 300.4L1201.0 299.7L1203.0 299.1L1205.0 298.4L1207.0 297.8L1209.0 297.1L1211.0 296.4L1213.0 295.8L1215.0 295.1L1217.0 294.5L1219.0 293.8L1221.0 293.2L1223.0 292.5L1225.0 291.9L1227.0 291.2L1229.0 290.6L1231.0 289.9L1233.0 289.3L1235.0 288.6L1237.0 288.0L1239.0 287.3L1241.0 286.7L1243.0 286.1L1245.0 285.4L1247.0 284.8L1249.0 284.2L1251.0 283.5L1253.0 282.9L1255.0 282.3L1257.0 281.6L1259.0 281.0L1261.0 280.4L1263.0 279.7L1265.0 279.1L1267.0 278.5L1269.0 277.9L1271.0 277.2L1273.0 276.6L1275.0 276.0L1277.0 275.4L1279.0 274.8L1281.0 274.2L1283.0 273.5L1285.0 272.9L1287.0 272.3L1289.0 271.7L1291.0 271.1L1293.0 270.5L1295.0 269.9L1297.0 269.3L1299.0 268.7L1301.0 268.1L1303.0 267.4L1305.0 266.8L1307.0 266.2L1309.0 265.6L1311.0 265.0L1313.0 264.4L1315.0 263.8L1317.0 263.3L1319.0 262.7L1321.0 262.1L1323.0 261.5L1325.0 260.9L1327.0 260.3L1329.0 259.7L1331.0 259.1L1333.0 258.5L1335.0 257.9L1337.0 257.4L1339.0 256.8L1341.0 256.2L1343.0 255.6L1345.0 255.0L1347.0 254.4L1349.0 253.9L1351.0 253.3L1353.0 252.7L1355.0 252.1L1357.0 251.6L1359.0 251.0L1361.0 250.4L1363.0 249.9L1365.0 249.3L1367.0 248.7L1369.0 248.1L1371.0 247.6L1373.0 247.0L1375.0 246.4L1377.0 245.9L1379.0 245.3L1381.0 244.8L1383.0 244.2L1385.0 243.6L1387.0 243.1L1389.0 242.5L1391.0 242.0L1393.0 241.4L1395.0 240.9L1397.0 240.3L1399.0 239.8L1401.0 239.2L1403.0 238.7L1405.0 238.1L1407.0 237.6L1409.0 237.0L1411.0 236.5L1413.0 235.9L1415.0 235.4L1417.0 234.8L1419.0 234.3L1421.0 233.8L1423.0 233.2L1425.0 232.7L1427.0 232.1L1429.0 231.6L1431.0 231.1L1433.0 230.5L1435.0 230.0L1437.0 229.5L1439.0 228.9L1441.0 228.4L1443.0 227.9L1445.0 227.4L1447.0 226.8L1449.0 226.3L1451.0 225.8L1453.0 225.3L1455.0 224.7L1457.0 224.2L1459.0 223.7L1461.0 223.2L1463.0 222.6L1465.0 222.1L1467.0 221.6L1469.0 221.1L1471.0 220.6L1473.0 220.1L1475.0 219.6L1477.0 219.0L1479.0 218.5L1481.0 218.0L1483.0 217.5L1485.0 217.0L1487.0 216.5L1489.0 216.0L1491.0 215.5L1493.0 215.0L1495.0 214.5L1497.0 214.0L1499.0 213.5L1501.0 213.0L1503.0 212.5L1505.0 212.0L1507.0 211.5L1509.0 211.0L1511.0 210.5L1513.0 210.0L1515.0 209.5L1517.0 209.0L1519.0 208.5L1521.0 208.0L1523.0 207.5L1525.0 207.0L1527.0 206.5L1529.0 206.1L1531.0 205.6L1533.0 205.1L1535.0 204.6L1537.0 204.1L1539.0 203.6L1541.0 203.1L1543.0 202.7L1545.0 202.2L1547.0 201.7L1549.0 201.2L1551.0 200.8L1553.0 200.3L1555.0 199.8L1557.0 199.3L1559.0 198.8L1561.0 198.4L1563.0 197.9L1565.0 197.4L1567.0 197.0L1569.0 196.5L1571.0 196.0L1573.0 195.6L1575.0 195.1L1577.0 194.6L1579.0 194.2L1581.0 193.7L1583.0 193.2L1585.0 192.8L1587.0 192.3L1589.0 191.8L1591.0 191.4L1593.0 190.9L1595.0 190.5L1597.0 190.0L1599.0 189.6L1601.0 189.1L1603.0 188.7L1605.0 188.2L1607.0 187.7L1609.0 187.3L1611.0 186.8L1613.0 186.4L1615.0 185.9L1617.0 185.5L1619.0 185.0L1621.0 184.6L1623.0 184.2L1625.0 183.7L1627.0 183.3L1629.0 182.8L1631.0 182.4L1633.0 181.9L1635.0 181.5L1637.0 181.1L1639.0 180.6L1641.0 180.2L1643.0 179.7L1645.0 179.3L1647.0 178.9L1649.0 178.4L1651.0 178.0L1653.0 177.6L1655.0 177.1L1657.0 176.7L1659.0 176.3L1661.0 175.9L1663.0 175.4L1665.0 175.0L1667.0 174.6L1669.0 174.1L1671.0 173.7L1673.0 173.3L1675.0 172.9L1677.0 172.4L1679.0 172.0L1681.0 171.6L1683.0 171.2L1685.0 170.8L1687.0 170.3L1689.0 169.9L1691.0 169.5L1693.0 169.1L1695.0 168.7L1697.0 168.3L1699.0 167.9L1701.0 167.4L1703.0 167.0L1705.0 166.6L1707.0 166.2L1709.0 165.8L1711.0 165.4L1713.0 165.0L1715.0 164.6L1717.0 164.2L1719.0 163.8L1721.0 163.4L1723.0 162.9L1725.0 162.5L1727.0 162.1L1729.0 161.7L1731.0 161.3L1733.0 160.9L1735.0 160.5L1737.0 160.1L1739.0 159.7L1741.0 159.3L1743.0 159.0L1745.0 158.6L1747.0 158.2" stroke="#5a9468" stroke-width="1.3" stroke-dasharray="1.2 1.8" fill="none"/>
<clipPath id="plot"><rect x="11" y="28" width="1736" height="768"/></clipPath>
<g clip-path="url(#plot)">
<path d="M153.0 900.3L154.9 898.8L156.8 897.6L158.6 896.5L160.5 895.7L162.4 895.1L164.2 894.6L166.1 894.3L168.0 894.1L169.8 894.0L171.7 894.0L173.5 894.1L175.4 894.3L175.4 969.1L173.5 969.9L171.7 970.7L169.8 971.6L168.0 972.6L166.1 973.8L164.2 975.0L162.4 976.4L160.5 978.0L158.6 979.8L156.8 981.8L154.9 984.0L153.0 986.6Z" fill="#0aff68" fill-opacity="0.28" stroke="none"/><path d="M153.0 900.3L154.9 898.8L156.8 897.6L158.6 896.5L160.5 895.7L162.4 895.1L164.2 894.6L166.1 894.3L168.0 894.1L169.8 894.0L171.7 894.0L173.5 894.1L175.4 894.3" stroke="#0aff68" stroke-width="1.1" fill="none" stroke-opacity="0.75"/><path d="M153.0 986.6L154.9 984.0L156.8 981.8L158.6 979.8L160.5 978.0L162.4 976.4L164.2 975.0L166.1 973.8L168.0 972.6L169.8 971.6L171.7 970.7L173.5 969.9L175.4 969.1" stroke="#0aff68" stroke-width="1.1" fill="none" stroke-opacity="0.75"/><path d="M153.0 932.3L154.9 930.5L156.8 929.0L158.6 927.8L160.5 926.7L162.4 925.8L164.2 925.1L166.1 924.5L168.0 924.1L169.8 923.7L171.7 923.5L173.5 923.3L175.4 923.3" stroke="#0aff68" stroke-width="2.8" fill="none" stroke-linecap="butt"/><path d="M175.4 894.3L177.3 894.6L179.1 894.9L181.0 895.4L182.9 895.8L184.7 896.3L186.6 896.9L188.5 897.5L190.3 898.1L192.2 898.8L194.1 899.5L194.1 964.3L192.2 964.6L190.3 965.0L188.5 965.4L186.6 965.8L184.7 966.3L182.9 966.8L181.0 967.3L179.1 967.9L177.3 968.5L175.4 969.1Z" fill="#ff0a5a" fill-opacity="0.26" stroke="none"/><path d="M175.4 894.3L177.3 894.6L179.1 894.9L181.0 895.4L182.9 895.8L184.7 896.3L186.6 896.9L188.5 897.5L190.3 898.1L192.2 898.8L194.1 899.5" stroke="#ff0a5a" stroke-width="1.1" fill="none" stroke-opacity="0.75"/><path d="M175.4 969.1L177.3 968.5L179.1 967.9L181.0 967.3L182.9 966.8L184.7 966.3L186.6 965.8L188.5 965.4L190.3 965.0L192.2 964.6L194.1 964.3" stroke="#ff0a5a" stroke-width="1.1" fill="none" stroke-opacity="0.75"/><path d="M175.4 923.3L177.3 923.3L179.1 923.4L181.0 923.5L182.9 923.7L184.7 923.9L186.6 924.2L188.5 924.5L190.3 924.8L192.2 925.1L194.1 925.5" stroke="#ff0a5a" stroke-width="2.8" fill="none" stroke-linecap="butt"/><path d="M242.6 900.7L244.4 899.5L246.3 898.1L248.1 896.8L250.0 895.4L251.9 894.0L253.7 892.6L255.6 891.1L257.5 889.7L259.3 888.2L261.2 886.7L263.1 885.1L264.9 883.6L266.8 881.9L268.7 880.2L270.5 878.3L272.4 876.3L274.3 874.1L276.1 871.5L278.0 868.4L279.9 864.6L281.7 859.7L283.6 853.9L285.4 847.2L287.3 839.8L289.2 831.9L291.0 823.8L292.9 815.5L294.8 807.4L296.6 799.4L298.5 791.6L300.4 784.2L302.2 777.2L304.1 770.5L306.0 764.2L307.8 758.3L309.7 752.7L311.6 747.5L313.4 742.7L315.3 738.2L317.2 734.0L319.0 730.0L320.9 726.4L322.8 723.0L324.6 719.8L326.5 716.7L328.3 713.9L330.2 711.2L332.1 708.7L333.9 706.2L335.8 703.9L337.7 701.5L339.5 699.1L341.4 696.3L343.3 693.0L345.1 689.2L347.0 684.8L348.9 679.7L350.7 674.1L352.6 668.1L354.5 661.7L356.3 655.2L358.2 648.6L360.0 642.0L361.9 635.5L363.8 629.1L365.6 622.9L367.5 617.0L369.4 611.4L371.2 606.0L373.1 601.0L375.0 596.2L376.8 591.7L378.7 587.6L380.6 583.7L382.4 580.1L384.3 576.8L386.2 573.7L388.0 570.9L389.9 568.3L391.8 565.9L393.6 563.7L395.5 561.8L397.3 559.9L399.2 558.3L401.1 556.7L402.9 555.2L404.8 553.8L406.7 552.6L408.5 551.5L410.4 550.5L412.3 549.5L414.1 548.7L416.0 547.9L417.9 547.2L419.7 546.6L421.6 546.1L423.5 545.6L425.3 545.2L427.2 544.9L429.1 544.6L430.9 544.5L432.8 544.4L434.6 544.3L436.5 544.4L438.4 544.5L440.2 544.6L442.1 544.8L444.0 545.1L444.0 593.1L442.1 593.6L440.2 594.2L438.4 594.9L436.5 595.7L434.6 596.6L432.8 597.6L430.9 598.7L429.1 599.9L427.2 601.3L425.3 602.7L423.5 604.3L421.6 606.0L419.7 607.8L417.9 609.7L416.0 611.7L414.1 613.7L412.3 615.9L410.4 618.2L408.5 620.5L406.7 622.9L404.8 625.5L402.9 628.0L401.1 630.7L399.2 633.6L397.3 636.7L395.5 639.9L393.6 643.3L391.8 646.9L389.9 650.7L388.0 654.6L386.2 658.8L384.3 663.3L382.4 668.0L380.6 672.9L378.7 678.0L376.8 683.4L375.0 688.9L373.1 694.6L371.2 700.4L369.4 706.3L367.5 712.2L365.6 718.0L363.8 723.7L361.9 729.3L360.0 734.5L358.2 739.4L356.3 743.9L354.5 748.0L352.6 751.9L350.7 755.5L348.9 759.1L347.0 762.8L345.1 766.6L343.3 770.5L341.4 774.7L339.5 779.1L337.7 783.7L335.8 788.5L333.9 793.3L332.1 798.2L330.2 803.2L328.3 808.4L326.5 813.6L324.6 819.1L322.8 824.6L320.9 830.1L319.0 835.7L317.2 841.4L315.3 847.0L313.4 852.6L311.6 858.1L309.7 863.5L307.8 868.8L306.0 873.8L304.1 878.5L302.2 882.9L300.4 886.8L298.5 890.1L296.6 892.9L294.8 895.0L292.9 896.7L291.0 898.0L289.2 899.0L287.3 899.9L285.4 900.9L283.6 902.1L281.7 903.7L279.9 905.6L278.0 907.9L276.1 910.2L274.3 912.5L272.4 914.7L270.5 916.8L268.7 918.9L266.8 920.9L264.9 922.8L263.1 924.7L261.2 926.7L259.3 928.6L257.5 930.5L255.6 932.3L253.7 934.2L251.9 936.1L250.0 937.9L248.1 939.7L246.3 941.5L244.4 943.2L242.6 944.9Z" fill="#0aff68" fill-opacity="0.28" stroke="none"/><path d="M242.6 900.7L244.4 899.5L246.3 898.1L248.1 896.8L250.0 895.4L251.9 894.0L253.7 892.6L255.6 891.1L257.5 889.7L259.3 888.2L261.2 886.7L263.1 885.1L264.9 883.6L266.8 881.9L268.7 880.2L270.5 878.3L272.4 876.3L274.3 874.1L276.1 871.5L278.0 868.4L279.9 864.6L281.7 859.7L283.6 853.9L285.4 847.2L287.3 839.8L289.2 831.9L291.0 823.8L292.9 815.5L294.8 807.4L296.6 799.4L298.5 791.6L300.4 784.2L302.2 777.2L304.1 770.5L306.0 764.2L307.8 758.3L309.7 752.7L311.6 747.5L313.4 742.7L315.3 738.2L317.2 734.0L319.0 730.0L320.9 726.4L322.8 723.0L324.6 719.8L326.5 716.7L328.3 713.9L330.2 711.2L332.1 708.7L333.9 706.2L335.8 703.9L337.7 701.5L339.5 699.1L341.4 696.3L343.3 693.0L345.1 689.2L347.0 684.8L348.9 679.7L350.7 674.1L352.6 668.1L354.5 661.7L356.3 655.2L358.2 648.6L360.0 642.0L361.9 635.5L363.8 629.1L365.6 622.9L367.5 617.0L369.4 611.4L371.2 606.0L373.1 601.0L375.0 596.2L376.8 591.7L378.7 587.6L380.6 583.7L382.4 580.1L384.3 576.8L386.2 573.7L388.0 570.9L389.9 568.3L391.8 565.9L393.6 563.7L395.5 561.8L397.3 559.9L399.2 558.3L401.1 556.7L402.9 555.2L404.8 553.8L406.7 552.6L408.5 551.5L410.4 550.5L412.3 549.5L414.1 548.7L416.0 547.9L417.9 547.2L419.7 546.6L421.6 546.1L423.5 545.6L425.3 545.2L427.2 544.9L429.1 544.6L430.9 544.5L432.8 544.4L434.6 544.3L436.5 544.4L438.4 544.5L440.2 544.6L442.1 544.8L444.0 545.1" stroke="#0aff68" stroke-width="1.1" fill="none" stroke-opacity="0.75"/><path d="M242.6 944.9L244.4 943.2L246.3 941.5L248.1 939.7L250.0 937.9L251.9 936.1L253.7 934.2L255.6 932.3L257.5 930.5L259.3 928.6L261.2 926.7L263.1 924.7L264.9 922.8L266.8 920.9L268.7 918.9L270.5 916.8L272.4 914.7L274.3 912.5L276.1 910.2L278.0 907.9L279.9 905.6L281.7 903.7L283.6 902.1L285.4 900.9L287.3 899.9L289.2 899.0L291.0 898.0L292.9 896.7L294.8 895.0L296.6 892.9L298.5 890.1L300.4 886.8L302.2 882.9L304.1 878.5L306.0 873.8L307.8 868.8L309.7 863.5L311.6 858.1L313.4 852.6L315.3 847.0L317.2 841.4L319.0 835.7L320.9 830.1L322.8 824.6L324.6 819.1L326.5 813.6L328.3 808.4L330.2 803.2L332.1 798.2L333.9 793.3L335.8 788.5L337.7 783.7L339.5 779.1L341.4 774.7L343.3 770.5L345.1 766.6L347.0 762.8L348.9 759.1L350.7 755.5L352.6 751.9L354.5 748.0L356.3 743.9L358.2 739.4L360.0 734.5L361.9 729.3L363.8 723.7L365.6 718.0L367.5 712.2L369.4 706.3L371.2 700.4L373.1 694.6L375.0 688.9L376.8 683.4L378.7 678.0L380.6 672.9L382.4 668.0L384.3 663.3L386.2 658.8L388.0 654.6L389.9 650.7L391.8 646.9L393.6 643.3L395.5 639.9L397.3 636.7L399.2 633.6L401.1 630.7L402.9 628.0L404.8 625.5L406.7 622.9L408.5 620.5L410.4 618.2L412.3 615.9L414.1 613.7L416.0 611.7L417.9 609.7L419.7 607.8L421.6 606.0L423.5 604.3L425.3 602.7L427.2 601.3L429.1 599.9L430.9 598.7L432.8 597.6L434.6 596.6L436.5 595.7L438.4 594.9L440.2 594.2L442.1 593.6L444.0 593.1" stroke="#0aff68" stroke-width="1.1" fill="none" stroke-opacity="0.75"/><path d="M242.6 919.8L244.4 918.4L246.3 916.9L248.1 915.4L250.0 913.9L251.9 912.3L253.7 910.7L255.6 909.1L257.5 907.5L259.3 905.8L261.2 904.2L263.1 902.5L264.9 900.8L266.8 899.0L268.7 897.2L270.5 895.3L272.4 893.2L274.3 891.0L276.1 888.5L278.0 885.7L279.9 882.5L281.7 878.7L283.6 874.4L285.4 869.6L287.3 864.3L289.2 858.6L291.0 852.6L292.9 846.2L294.8 839.7L296.6 833.2L298.5 826.6L300.4 820.1L302.2 813.7L304.1 807.5L306.0 801.5L307.8 795.8L309.7 790.3L311.6 785.1L313.4 780.1L315.3 775.3L317.2 770.8L319.0 766.6L320.9 762.5L322.8 758.6L324.6 754.9L326.5 751.3L328.3 747.9L330.2 744.7L332.1 741.5L333.9 738.5L335.8 735.5L337.7 732.5L339.5 729.5L341.4 726.2L343.3 722.7L345.1 718.9L347.0 714.6L348.9 709.9L350.7 704.9L352.6 699.5L354.5 693.8L356.3 687.8L358.2 681.7L360.0 675.5L361.9 669.3L363.8 663.2L365.6 657.1L367.5 651.2L369.4 645.5L371.2 640.0L373.1 634.8L375.0 629.8L376.8 625.1L378.7 620.6L380.6 616.4L382.4 612.5L384.3 608.9L386.2 605.4L388.0 602.3L389.9 599.3L391.8 596.6L393.6 594.0L395.5 591.6L397.3 589.4L399.2 587.3L401.1 585.4L402.9 583.6L404.8 581.9L406.7 580.3L408.5 578.8L410.4 577.3L412.3 576.0L414.1 574.7L416.0 573.6L417.9 572.5L419.7 571.5L421.6 570.5L423.5 569.7L425.3 568.9L427.2 568.2L429.1 567.6L430.9 567.1L432.8 566.6L434.6 566.3L436.5 566.0L438.4 565.8L440.2 565.6L442.1 565.6L444.0 565.6" stroke="#0aff68" stroke-width="2.8" fill="none" stroke-linecap="butt"/><path d="M444.0 545.1L445.8 545.4L447.7 545.8L449.6 546.3L451.4 546.8L453.3 547.3L455.2 547.9L457.0 548.5L458.9 549.2L460.8 550.0L462.6 550.7L464.5 551.6L466.4 552.4L468.2 553.3L470.1 554.3L471.9 555.2L473.8 556.3L475.7 557.3L477.5 558.4L479.4 559.5L481.3 560.6L483.1 561.8L485.0 563.0L486.9 564.2L488.7 565.4L490.6 566.7L492.5 568.0L494.3 569.2L496.2 570.5L498.1 571.9L499.9 573.2L501.8 574.5L503.7 575.8L505.5 577.1L507.4 578.3L509.2 579.6L511.1 580.8L513.0 582.0L514.8 583.2L516.7 584.4L518.6 585.5L520.4 586.6L522.3 587.7L524.2 588.7L526.0 589.8L527.9 590.8L529.8 591.7L531.6 592.6L533.5 593.5L535.4 594.3L537.2 595.0L539.1 595.6L541.0 596.2L542.8 596.7L544.7 597.1L546.5 597.3L548.4 597.5L550.3 597.6L552.1 597.7L552.1 628.8L550.3 628.7L548.4 628.5L546.5 628.2L544.7 627.8L542.8 627.4L541.0 626.9L539.1 626.4L537.2 625.8L535.4 625.2L533.5 624.5L531.6 623.9L529.8 623.2L527.9 622.5L526.0 621.8L524.2 621.1L522.3 620.3L520.4 619.5L518.6 618.7L516.7 617.9L514.8 617.1L513.0 616.3L511.1 615.4L509.2 614.5L507.4 613.6L505.5 612.6L503.7 611.6L501.8 610.6L499.9 609.6L498.1 608.6L496.2 607.6L494.3 606.6L492.5 605.5L490.6 604.5L488.7 603.5L486.9 602.5L485.0 601.5L483.1 600.5L481.3 599.6L479.4 598.7L477.5 597.8L475.7 597.0L473.8 596.2L471.9 595.5L470.1 594.8L468.2 594.2L466.4 593.6L464.5 593.1L462.6 592.7L460.8 592.4L458.9 592.1L457.0 591.9L455.2 591.8L453.3 591.8L451.4 591.9L449.6 592.1L447.7 592.3L445.8 592.7L444.0 593.1Z" fill="#ff0a5a" fill-opacity="0.26" stroke="none"/><path d="M444.0 545.1L445.8 545.4L447.7 545.8L449.6 546.3L451.4 546.8L453.3 547.3L455.2 547.9L457.0 548.5L458.9 549.2L460.8 550.0L462.6 550.7L464.5 551.6L466.4 552.4L468.2 553.3L470.1 554.3L471.9 555.2L473.8 556.3L475.7 557.3L477.5 558.4L479.4 559.5L481.3 560.6L483.1 561.8L485.0 563.0L486.9 564.2L488.7 565.4L490.6 566.7L492.5 568.0L494.3 569.2L496.2 570.5L498.1 571.9L499.9 573.2L501.8 574.5L503.7 575.8L505.5 577.1L507.4 578.3L509.2 579.6L511.1 580.8L513.0 582.0L514.8 583.2L516.7 584.4L518.6 585.5L520.4 586.6L522.3 587.7L524.2 588.7L526.0 589.8L527.9 590.8L529.8 591.7L531.6 592.6L533.5 593.5L535.4 594.3L537.2 595.0L539.1 595.6L541.0 596.2L542.8 596.7L544.7 597.1L546.5 597.3L548.4 597.5L550.3 597.6L552.1 597.7" stroke="#ff0a5a" stroke-width="1.1" fill="none" stroke-opacity="0.75"/><path d="M444.0 593.1L445.8 592.7L447.7 592.3L449.6 592.1L451.4 591.9L453.3 591.8L455.2 591.8L457.0 591.9L458.9 592.1L460.8 592.4L462.6 592.7L464.5 593.1L466.4 593.6L468.2 594.2L470.1 594.8L471.9 595.5L473.8 596.2L475.7 597.0L477.5 597.8L479.4 598.7L481.3 599.6L483.1 600.5L485.0 601.5L486.9 602.5L488.7 603.5L490.6 604.5L492.5 605.5L494.3 606.6L496.2 607.6L498.1 608.6L499.9 609.6L501.8 610.6L503.7 611.6L505.5 612.6L507.4 613.6L509.2 614.5L511.1 615.4L513.0 616.3L514.8 617.1L516.7 617.9L518.6 618.7L520.4 619.5L522.3 620.3L524.2 621.1L526.0 621.8L527.9 622.5L529.8 623.2L531.6 623.9L533.5 624.5L535.4 625.2L537.2 625.8L539.1 626.4L541.0 626.9L542.8 627.4L544.7 627.8L546.5 628.2L548.4 628.5L550.3 628.7L552.1 628.8" stroke="#ff0a5a" stroke-width="1.1" fill="none" stroke-opacity="0.75"/><path d="M444.0 565.6L445.8 565.6L447.7 565.7L449.6 565.9L451.4 566.2L453.3 566.5L455.2 566.9L457.0 567.3L458.9 567.8L460.8 568.4L462.6 569.0L464.5 569.7L466.4 570.4L468.2 571.2L470.1 572.0L471.9 572.9L473.8 573.8L475.7 574.7L477.5 575.7L479.4 576.7L481.3 577.8L483.1 578.8L485.0 579.9L486.9 581.1L488.7 582.2L490.6 583.4L492.5 584.6L494.3 585.7L496.2 586.9L498.1 588.1L499.9 589.3L501.8 590.5L503.7 591.7L505.5 592.9L507.4 594.0L509.2 595.1L511.1 596.2L513.0 597.3L514.8 598.4L516.7 599.4L518.6 600.4L520.4 601.4L522.3 602.3L524.2 603.3L526.0 604.2L527.9 605.1L529.8 605.9L531.6 606.7L533.5 607.5L535.4 608.2L537.2 608.9L539.1 609.5L541.0 610.1L542.8 610.6L544.7 611.0L546.5 611.3L548.4 611.5L550.3 611.7L552.1 611.7" stroke="#ff0a5a" stroke-width="2.8" fill="none" stroke-linecap="butt"/><path d="M552.1 597.7L554.0 597.6L555.9 597.4L557.7 597.2L559.6 596.9L561.5 596.6L563.3 596.3L565.2 595.8L567.1 595.3L568.9 594.8L570.8 594.3L572.7 593.7L574.5 593.1L576.4 592.4L578.3 591.8L580.1 591.1L582.0 590.5L583.8 589.8L585.7 589.1L587.6 588.3L589.4 587.6L591.3 586.8L593.2 586.0L595.0 585.1L596.9 584.2L598.8 583.2L600.6 582.1L602.5 581.1L604.4 580.0L606.2 578.8L608.1 577.6L610.0 576.4L611.8 575.2L613.7 574.0L615.6 572.8L617.4 571.6L619.3 570.4L621.1 569.2L623.0 568.1L624.9 566.9L626.7 565.8L628.6 564.7L630.5 563.6L632.3 562.6L634.2 561.5L636.1 560.5L637.9 559.5L639.8 558.6L641.7 557.6L643.5 556.6L645.4 555.6L647.3 554.5L649.1 553.4L651.0 552.3L652.9 551.2L654.7 550.0L656.6 548.8L658.5 547.6L660.3 546.4L662.2 545.1L664.0 543.7L665.9 542.3L667.8 540.9L669.6 539.5L671.5 538.0L673.4 536.6L675.2 535.1L677.1 533.6L679.0 532.0L680.8 530.4L682.7 528.7L684.6 526.9L686.4 525.0L688.3 523.0L690.2 520.9L692.0 518.6L693.9 516.2L695.8 513.7L697.6 511.1L699.5 508.4L701.3 505.6L703.2 502.6L705.1 499.6L706.9 496.5L708.8 493.3L710.7 490.0L712.5 486.7L714.4 483.3L716.3 479.9L718.1 476.4L720.0 472.9L721.9 469.3L723.7 465.7L725.6 462.1L727.5 458.4L729.3 454.6L731.2 450.8L733.0 446.8L734.9 442.6L736.8 438.3L738.6 433.6L740.5 428.8L742.4 423.7L744.2 418.5L746.1 413.1L748.0 407.7L749.8 402.4L751.7 397.1L753.6 391.9L755.4 386.9L757.3 382.0L759.2 377.3L761.0 372.9L762.9 368.7L764.8 364.7L766.6 361.0L768.5 357.5L770.3 354.3L772.2 351.2L774.1 348.4L775.9 345.7L777.8 343.3L779.7 341.0L781.5 339.0L783.4 337.1L785.3 335.3L787.1 333.7L789.0 332.3L790.9 331.0L792.7 329.9L794.6 328.9L796.5 328.0L798.3 327.2L800.2 326.5L802.1 326.0L803.9 325.5L805.8 325.1L807.6 324.8L809.5 324.6L811.4 324.4L813.2 324.4L815.1 324.3L817.0 324.4L818.8 324.5L820.7 324.7L820.7 379.7L818.8 380.2L817.0 380.6L815.1 381.1L813.2 381.6L811.4 382.1L809.5 382.8L807.6 383.5L805.8 384.3L803.9 385.1L802.1 386.1L800.2 387.1L798.3 388.2L796.5 389.4L794.6 390.7L792.7 392.1L790.9 393.6L789.0 395.1L787.1 396.8L785.3 398.6L783.4 400.5L781.5 402.5L779.7 404.6L777.8 406.8L775.9 409.1L774.1 411.5L772.2 414.0L770.3 416.6L768.5 419.4L766.6 422.3L764.8 425.3L762.9 428.5L761.0 431.8L759.2 435.2L757.3 438.7L755.4 442.3L753.6 446.0L751.7 449.8L749.8 453.7L748.0 457.7L746.1 461.7L744.2 465.6L742.4 469.5L740.5 473.4L738.6 477.2L736.8 480.8L734.9 484.4L733.0 488.0L731.2 491.5L729.3 494.9L727.5 498.2L725.6 501.6L723.7 504.8L721.9 508.0L720.0 511.1L718.1 514.1L716.3 517.1L714.4 520.0L712.5 522.8L710.7 525.5L708.8 528.2L706.9 530.7L705.1 533.1L703.2 535.5L701.3 537.8L699.5 540.0L697.6 542.2L695.8 544.3L693.9 546.4L692.0 548.3L690.2 550.2L688.3 551.9L686.4 553.6L684.6 555.2L682.7 556.7L680.8 558.1L679.0 559.5L677.1 560.9L675.2 562.2L673.4 563.5L671.5 564.7L669.6 565.9L667.8 567.1L665.9 568.3L664.0 569.5L662.2 570.7L660.3 571.8L658.5 572.9L656.6 574.0L654.7 575.1L652.9 576.1L651.0 577.2L649.1 578.3L647.3 579.4L645.4 580.5L643.5 581.6L641.7 582.8L639.8 584.0L637.9 585.2L636.1 586.4L634.2 587.6L632.3 588.8L630.5 590.0L628.6 591.2L626.7 592.5L624.9 593.7L623.0 595.0L621.1 596.2L619.3 597.5L617.4 598.8L615.6 600.1L613.7 601.4L611.8 602.8L610.0 604.1L608.1 605.4L606.2 606.7L604.4 608.0L602.5 609.3L600.6 610.5L598.8 611.8L596.9 612.9L595.0 614.1L593.2 615.2L591.3 616.2L589.4 617.3L587.6 618.3L585.7 619.2L583.8 620.2L582.0 621.1L580.1 621.9L578.3 622.8L576.4 623.6L574.5 624.3L572.7 625.1L570.8 625.7L568.9 626.3L567.1 626.9L565.2 627.4L563.3 627.9L561.5 628.2L559.6 628.5L557.7 628.7L555.9 628.8L554.0 628.9L552.1 628.8Z" fill="#0aff68" fill-opacity="0.28" stroke="none"/><path d="M552.1 597.7L554.0 597.6L555.9 597.4L557.7 597.2L559.6 596.9L561.5 596.6L563.3 596.3L565.2 595.8L567.1 595.3L568.9 594.8L570.8 594.3L572.7 593.7L574.5 593.1L576.4 592.4L578.3 591.8L580.1 591.1L582.0 590.5L583.8 589.8L585.7 589.1L587.6 588.3L589.4 587.6L591.3 586.8L593.2 586.0L595.0 585.1L596.9 584.2L598.8 583.2L600.6 582.1L602.5 581.1L604.4 580.0L606.2 578.8L608.1 577.6L610.0 576.4L611.8 575.2L613.7 574.0L615.6 572.8L617.4 571.6L619.3 570.4L621.1 569.2L623.0 568.1L624.9 566.9L626.7 565.8L628.6 564.7L630.5 563.6L632.3 562.6L634.2 561.5L636.1 560.5L637.9 559.5L639.8 558.6L641.7 557.6L643.5 556.6L645.4 555.6L647.3 554.5L649.1 553.4L651.0 552.3L652.9 551.2L654.7 550.0L656.6 548.8L658.5 547.6L660.3 546.4L662.2 545.1L664.0 543.7L665.9 542.3L667.8 540.9L669.6 539.5L671.5 538.0L673.4 536.6L675.2 535.1L677.1 533.6L679.0 532.0L680.8 530.4L682.7 528.7L684.6 526.9L686.4 525.0L688.3 523.0L690.2 520.9L692.0 518.6L693.9 516.2L695.8 513.7L697.6 511.1L699.5 508.4L701.3 505.6L703.2 502.6L705.1 499.6L706.9 496.5L708.8 493.3L710.7 490.0L712.5 486.7L714.4 483.3L716.3 479.9L718.1 476.4L720.0 472.9L721.9 469.3L723.7 465.7L725.6 462.1L727.5 458.4L729.3 454.6L731.2 450.8L733.0 446.8L734.9 442.6L736.8 438.3L738.6 433.6L740.5 428.8L742.4 423.7L744.2 418.5L746.1 413.1L748.0 407.7L749.8 402.4L751.7 397.1L753.6 391.9L755.4 386.9L757.3 382.0L759.2 377.3L761.0 372.9L762.9 368.7L764.8 364.7L766.6 361.0L768.5 357.5L770.3 354.3L772.2 351.2L774.1 348.4L775.9 345.7L777.8 343.3L779.7 341.0L781.5 339.0L783.4 337.1L785.3 335.3L787.1 333.7L789.0 332.3L790.9 331.0L792.7 329.9L794.6 328.9L796.5 328.0L798.3 327.2L800.2 326.5L802.1 326.0L803.9 325.5L805.8 325.1L807.6 324.8L809.5 324.6L811.4 324.4L813.2 324.4L815.1 324.3L817.0 324.4L818.8 324.5L820.7 324.7" stroke="#0aff68" stroke-width="1.1" fill="none" stroke-opacity="0.75"/><path d="M552.1 628.8L554.0 628.9L555.9 628.8L557.7 628.7L559.6 628.5L561.5 628.2L563.3 627.9L565.2 627.4L567.1 626.9L568.9 626.3L570.8 625.7L572.7 625.1L574.5 624.3L576.4 623.6L578.3 622.8L580.1 621.9L582.0 621.1L583.8 620.2L585.7 619.2L587.6 618.3L589.4 617.3L591.3 616.2L593.2 615.2L595.0 614.1L596.9 612.9L598.8 611.8L600.6 610.5L602.5 609.3L604.4 608.0L606.2 606.7L608.1 605.4L610.0 604.1L611.8 602.8L613.7 601.4L615.6 600.1L617.4 598.8L619.3 597.5L621.1 596.2L623.0 595.0L624.9 593.7L626.7 592.5L628.6 591.2L630.5 590.0L632.3 588.8L634.2 587.6L636.1 586.4L637.9 585.2L639.8 584.0L641.7 582.8L643.5 581.6L645.4 580.5L647.3 579.4L649.1 578.3L651.0 577.2L652.9 576.1L654.7 575.1L656.6 574.0L658.5 572.9L660.3 571.8L662.2 570.7L664.0 569.5L665.9 568.3L667.8 567.1L669.6 565.9L671.5 564.7L673.4 563.5L675.2 562.2L677.1 560.9L679.0 559.5L680.8 558.1L682.7 556.7L684.6 555.2L686.4 553.6L688.3 551.9L690.2 550.2L692.0 548.3L693.9 546.4L695.8 544.3L697.6 542.2L699.5 540.0L701.3 537.8L703.2 535.5L705.1 533.1L706.9 530.7L708.8 528.2L710.7 525.5L712.5 522.8L714.4 520.0L716.3 517.1L718.1 514.1L720.0 511.1L721.9 508.0L723.7 504.8L725.6 501.6L727.5 498.2L729.3 494.9L731.2 491.5L733.0 488.0L734.9 484.4L736.8 480.8L738.6 477.2L740.5 473.4L742.4 469.5L744.2 465.6L746.1 461.7L748.0 457.7L749.8 453.7L751.7 449.8L753.6 446.0L755.4 442.3L757.3 438.7L759.2 435.2L761.0 431.8L762.9 428.5L764.8 425.3L766.6 422.3L768.5 419.4L770.3 416.6L772.2 414.0L774.1 411.5L775.9 409.1L777.8 406.8L779.7 404.6L781.5 402.5L783.4 400.5L785.3 398.6L787.1 396.8L789.0 395.1L790.9 393.6L792.7 392.1L794.6 390.7L796.5 389.4L798.3 388.2L800.2 387.1L802.1 386.1L803.9 385.1L805.8 384.3L807.6 383.5L809.5 382.8L811.4 382.1L813.2 381.6L815.1 381.1L817.0 380.6L818.8 380.2L820.7 379.7" stroke="#0aff68" stroke-width="1.1" fill="none" stroke-opacity="0.75"/><path d="M552.1 611.7L554.0 611.7L555.9 611.6L557.7 611.4L559.6 611.2L561.5 610.9L563.3 610.5L565.2 610.1L567.1 609.6L568.9 609.0L570.8 608.5L572.7 607.8L574.5 607.2L576.4 606.5L578.3 605.8L580.1 605.1L582.0 604.3L583.8 603.5L585.7 602.7L587.6 601.9L589.4 601.1L591.3 600.2L593.2 599.2L595.0 598.3L596.9 597.3L598.8 596.2L600.6 595.1L602.5 593.9L604.4 592.8L606.2 591.6L608.1 590.3L610.0 589.1L611.8 587.8L613.7 586.6L615.6 585.3L617.4 584.1L619.3 582.8L621.1 581.6L623.0 580.4L624.9 579.2L626.7 578.0L628.6 576.9L630.5 575.7L632.3 574.6L634.2 573.5L636.1 572.4L637.9 571.3L639.8 570.3L641.7 569.2L643.5 568.1L645.4 567.1L647.3 566.0L649.1 564.9L651.0 563.8L652.9 562.7L654.7 561.6L656.6 560.4L658.5 559.3L660.3 558.1L662.2 556.8L664.0 555.6L665.9 554.3L667.8 553.0L669.6 551.6L671.5 550.3L673.4 548.9L675.2 547.5L677.1 546.1L679.0 544.6L680.8 543.1L682.7 541.5L684.6 539.8L686.4 538.1L688.3 536.2L690.2 534.2L692.0 532.1L693.9 529.9L695.8 527.6L697.6 525.1L699.5 522.6L701.3 520.1L703.2 517.4L705.1 514.6L706.9 511.8L708.8 508.9L710.7 505.8L712.5 502.7L714.4 499.5L716.3 496.3L718.1 493.0L720.0 489.7L721.9 486.3L723.7 482.9L725.6 479.4L727.5 475.9L729.3 472.2L731.2 468.6L733.0 464.8L734.9 460.8L736.8 456.7L738.6 452.5L740.5 448.0L742.4 443.4L744.2 438.6L746.1 433.8L748.0 428.9L749.8 424.0L751.7 419.2L753.6 414.5L755.4 409.9L757.3 405.4L759.2 401.2L761.0 397.1L762.9 393.1L764.8 389.4L766.6 385.9L768.5 382.6L770.3 379.5L772.2 376.6L774.1 373.9L775.9 371.3L777.8 368.9L779.7 366.7L781.5 364.6L783.4 362.6L785.3 360.8L787.1 359.2L789.0 357.7L790.9 356.3L792.7 355.1L794.6 353.9L796.5 352.9L798.3 352.0L800.2 351.2L802.1 350.5L803.9 349.9L805.8 349.3L807.6 348.9L809.5 348.5L811.4 348.2L813.2 348.0L815.1 347.8L817.0 347.7L818.8 347.6L820.7 347.6" stroke="#0aff68" stroke-width="2.8" fill="none" stroke-linecap="butt"/><path d="M820.7 324.7L822.6 325.0L824.4 325.4L826.3 325.8L828.2 326.2L830.0 326.7L831.9 327.2L833.8 327.8L835.6 328.4L837.5 329.1L839.4 329.8L841.2 330.5L843.1 331.3L845.0 332.1L846.8 333.0L848.7 333.9L850.5 334.8L852.4 335.8L854.3 336.9L856.1 338.0L858.0 339.1L859.9 340.2L861.7 341.4L863.6 342.5L865.5 343.7L867.3 345.0L869.2 346.2L871.1 347.4L872.9 348.6L874.8 349.7L876.7 350.9L878.5 351.9L880.4 352.9L882.2 353.9L884.1 354.7L886.0 355.4L887.8 355.9L889.7 356.4L891.6 356.6L893.4 356.7L893.4 392.2L891.6 392.1L889.7 392.0L887.8 391.8L886.0 391.4L884.1 391.0L882.2 390.5L880.4 389.9L878.5 389.3L876.7 388.6L874.8 387.8L872.9 387.0L871.1 386.3L869.2 385.5L867.3 384.7L865.5 383.9L863.6 383.1L861.7 382.4L859.9 381.6L858.0 381.0L856.1 380.3L854.3 379.7L852.4 379.2L850.5 378.7L848.7 378.3L846.8 377.9L845.0 377.6L843.1 377.4L841.2 377.2L839.4 377.1L837.5 377.1L835.6 377.1L833.8 377.2L831.9 377.4L830.0 377.6L828.2 377.9L826.3 378.3L824.4 378.7L822.6 379.2L820.7 379.7Z" fill="#ff0a5a" fill-opacity="0.26" stroke="none"/><path d="M820.7 324.7L822.6 325.0L824.4 325.4L826.3 325.8L828.2 326.2L830.0 326.7L831.9 327.2L833.8 327.8L835.6 328.4L837.5 329.1L839.4 329.8L841.2 330.5L843.1 331.3L845.0 332.1L846.8 333.0L848.7 333.9L850.5 334.8L852.4 335.8L854.3 336.9L856.1 338.0L858.0 339.1L859.9 340.2L861.7 341.4L863.6 342.5L865.5 343.7L867.3 345.0L869.2 346.2L871.1 347.4L872.9 348.6L874.8 349.7L876.7 350.9L878.5 351.9L880.4 352.9L882.2 353.9L884.1 354.7L886.0 355.4L887.8 355.9L889.7 356.4L891.6 356.6L893.4 356.7" stroke="#ff0a5a" stroke-width="1.1" fill="none" stroke-opacity="0.75"/><path d="M820.7 379.7L822.6 379.2L824.4 378.7L826.3 378.3L828.2 377.9L830.0 377.6L831.9 377.4L833.8 377.2L835.6 377.1L837.5 377.1L839.4 377.1L841.2 377.2L843.1 377.4L845.0 377.6L846.8 377.9L848.7 378.3L850.5 378.7L852.4 379.2L854.3 379.7L856.1 380.3L858.0 381.0L859.9 381.6L861.7 382.4L863.6 383.1L865.5 383.9L867.3 384.7L869.2 385.5L871.1 386.3L872.9 387.0L874.8 387.8L876.7 388.6L878.5 389.3L880.4 389.9L882.2 390.5L884.1 391.0L886.0 391.4L887.8 391.8L889.7 392.0L891.6 392.1L893.4 392.2" stroke="#ff0a5a" stroke-width="1.1" fill="none" stroke-opacity="0.75"/><path d="M820.7 347.6L822.6 347.6L824.4 347.7L826.3 347.8L828.2 348.0L830.0 348.2L831.9 348.4L833.8 348.8L835.6 349.1L837.5 349.5L839.4 350.0L841.2 350.5L843.1 351.0L845.0 351.7L846.8 352.3L848.7 353.0L850.5 353.8L852.4 354.6L854.3 355.5L856.1 356.4L858.0 357.3L859.9 358.3L861.7 359.3L863.6 360.3L865.5 361.3L867.3 362.4L869.2 363.4L871.1 364.5L872.9 365.5L874.8 366.5L876.7 367.5L878.5 368.4L880.4 369.3L882.2 370.1L884.1 370.8L886.0 371.4L887.8 371.9L889.7 372.2L891.6 372.4L893.4 372.5" stroke="#ff0a5a" stroke-width="2.8" fill="none" stroke-linecap="butt"/><path d="M893.4 356.7L895.3 356.6L897.2 356.4L899.0 356.0L900.9 355.5L902.8 354.9L904.6 354.2L906.5 353.3L908.4 352.4L910.2 351.4L912.1 350.3L914.0 349.2L915.8 348.1L917.7 347.0L919.5 345.8L921.4 344.7L923.3 343.6L925.1 342.5L927.0 341.4L928.9 340.4L930.7 339.4L932.6 338.4L934.5 337.5L936.3 336.7L938.2 335.9L940.1 335.2L941.9 334.5L943.8 333.9L945.7 333.4L947.5 332.8L949.4 332.3L951.3 331.9L953.1 331.5L955.0 331.1L956.9 330.7L958.7 330.3L960.6 330.0L962.4 329.8L964.3 329.5L966.2 329.3L968.0 329.1L969.9 329.0L971.8 328.8L973.6 328.7L975.5 328.6L977.4 328.5L979.2 328.5L981.1 328.4L983.0 328.4L984.8 328.3L986.7 328.3L988.6 328.3L990.4 328.2L992.3 328.2L994.1 328.1L996.0 328.1L997.9 328.0L999.7 327.9L1001.6 327.8L1003.5 327.6L1005.3 327.4L1007.2 327.2L1009.1 326.9L1010.9 326.7L1012.8 326.4L1014.7 326.1L1016.5 325.7L1018.4 325.4L1020.3 324.9L1022.1 324.5L1024.0 323.9L1025.9 323.3L1027.7 322.6L1029.6 321.8L1031.4 321.0L1033.3 319.9L1035.2 318.7L1037.0 317.3L1038.9 315.8L1040.8 314.0L1042.6 312.0L1044.5 309.9L1046.4 307.4L1048.2 304.8L1050.1 301.9L1052.0 298.8L1053.8 295.5L1055.7 292.0L1057.6 288.4L1059.4 284.6L1061.3 280.8L1063.2 276.9L1065.0 273.0L1066.9 269.1L1068.8 265.3L1070.6 261.5L1072.5 257.7L1074.3 254.1L1076.2 250.6L1078.1 247.3L1079.9 244.1L1081.8 241.1L1083.7 238.2L1085.5 235.5L1087.4 233.0L1089.3 230.6L1091.1 228.4L1093.0 226.3L1094.9 224.4L1096.7 222.6L1098.6 220.9L1100.5 219.3L1102.3 217.8L1104.2 216.4L1106.0 215.1L1107.9 213.9L1109.8 212.7L1111.6 211.6L1113.5 210.5L1115.4 209.4L1117.2 208.3L1119.1 207.3L1121.0 206.3L1122.8 205.3L1124.7 204.3L1126.6 203.3L1128.4 202.3L1130.3 201.4L1132.2 200.5L1134.0 199.6L1135.9 198.7L1137.8 197.9L1139.6 197.2L1141.5 196.5L1143.3 195.8L1145.2 195.2L1147.1 194.6L1148.9 194.2L1150.8 193.7L1152.7 193.3L1154.5 193.0L1156.4 192.7L1158.3 192.4L1160.1 192.2L1162.0 192.0L1163.9 191.9L1165.7 191.8L1167.6 191.8L1169.5 191.8L1169.5 227.4L1167.6 227.5L1165.7 227.6L1163.9 227.8L1162.0 228.1L1160.1 228.4L1158.3 228.7L1156.4 229.1L1154.5 229.5L1152.7 230.0L1150.8 230.5L1148.9 231.1L1147.1 231.7L1145.2 232.5L1143.3 233.2L1141.5 234.1L1139.6 235.0L1137.8 235.9L1135.9 236.9L1134.0 238.0L1132.2 239.1L1130.3 240.2L1128.4 241.4L1126.6 242.6L1124.7 243.8L1122.8 245.0L1121.0 246.3L1119.1 247.5L1117.2 248.8L1115.4 250.0L1113.5 251.3L1111.6 252.6L1109.8 253.9L1107.9 255.3L1106.0 256.7L1104.2 258.1L1102.3 259.6L1100.5 261.2L1098.6 262.9L1096.7 264.6L1094.9 266.4L1093.0 268.4L1091.1 270.4L1089.3 272.6L1087.4 274.9L1085.5 277.4L1083.7 280.0L1081.8 282.7L1079.9 285.6L1078.1 288.6L1076.2 291.7L1074.3 295.0L1072.5 298.3L1070.6 301.7L1068.8 305.2L1066.9 308.6L1065.0 312.1L1063.2 315.5L1061.3 318.7L1059.4 321.9L1057.6 325.0L1055.7 327.8L1053.8 330.6L1052.0 333.1L1050.1 335.5L1048.2 337.8L1046.4 339.9L1044.5 341.9L1042.6 343.7L1040.8 345.4L1038.9 347.0L1037.0 348.4L1035.2 349.7L1033.3 350.9L1031.4 351.9L1029.6 352.9L1027.7 353.9L1025.9 354.7L1024.0 355.5L1022.1 356.2L1020.3 356.9L1018.4 357.6L1016.5 358.2L1014.7 358.7L1012.8 359.3L1010.9 359.8L1009.1 360.2L1007.2 360.7L1005.3 361.1L1003.5 361.4L1001.6 361.8L999.7 362.1L997.9 362.4L996.0 362.6L994.1 362.8L992.3 363.0L990.4 363.1L988.6 363.2L986.7 363.3L984.8 363.3L983.0 363.3L981.1 363.3L979.2 363.3L977.4 363.3L975.5 363.3L973.6 363.3L971.8 363.4L969.9 363.4L968.0 363.5L966.2 363.6L964.3 363.8L962.4 364.0L960.6 364.3L958.7 364.6L956.9 364.9L955.0 365.3L953.1 365.8L951.3 366.3L949.4 366.8L947.5 367.4L945.7 368.0L943.8 368.6L941.9 369.2L940.1 369.9L938.2 370.7L936.3 371.5L934.5 372.4L932.6 373.3L930.7 374.3L928.9 375.3L927.0 376.4L925.1 377.6L923.3 378.7L921.4 379.9L919.5 381.1L917.7 382.3L915.8 383.5L914.0 384.7L912.1 385.8L910.2 386.9L908.4 387.9L906.5 388.9L904.6 389.7L902.8 390.5L900.9 391.1L899.0 391.5L897.2 391.9L895.3 392.1L893.4 392.2Z" fill="#0aff68" fill-opacity="0.28" stroke="none"/><path d="M893.4 356.7L895.3 356.6L897.2 356.4L899.0 356.0L900.9 355.5L902.8 354.9L904.6 354.2L906.5 353.3L908.4 352.4L910.2 351.4L912.1 350.3L914.0 349.2L915.8 348.1L917.7 347.0L919.5 345.8L921.4 344.7L923.3 343.6L925.1 342.5L927.0 341.4L928.9 340.4L930.7 339.4L932.6 338.4L934.5 337.5L936.3 336.7L938.2 335.9L940.1 335.2L941.9 334.5L943.8 333.9L945.7 333.4L947.5 332.8L949.4 332.3L951.3 331.9L953.1 331.5L955.0 331.1L956.9 330.7L958.7 330.3L960.6 330.0L962.4 329.8L964.3 329.5L966.2 329.3L968.0 329.1L969.9 329.0L971.8 328.8L973.6 328.7L975.5 328.6L977.4 328.5L979.2 328.5L981.1 328.4L983.0 328.4L984.8 328.3L986.7 328.3L988.6 328.3L990.4 328.2L992.3 328.2L994.1 328.1L996.0 328.1L997.9 328.0L999.7 327.9L1001.6 327.8L1003.5 327.6L1005.3 327.4L1007.2 327.2L1009.1 326.9L1010.9 326.7L1012.8 326.4L1014.7 326.1L1016.5 325.7L1018.4 325.4L1020.3 324.9L1022.1 324.5L1024.0 323.9L1025.9 323.3L1027.7 322.6L1029.6 321.8L1031.4 321.0L1033.3 319.9L1035.2 318.7L1037.0 317.3L1038.9 315.8L1040.8 314.0L1042.6 312.0L1044.5 309.9L1046.4 307.4L1048.2 304.8L1050.1 301.9L1052.0 298.8L1053.8 295.5L1055.7 292.0L1057.6 288.4L1059.4 284.6L1061.3 280.8L1063.2 276.9L1065.0 273.0L1066.9 269.1L1068.8 265.3L1070.6 261.5L1072.5 257.7L1074.3 254.1L1076.2 250.6L1078.1 247.3L1079.9 244.1L1081.8 241.1L1083.7 238.2L1085.5 235.5L1087.4 233.0L1089.3 230.6L1091.1 228.4L1093.0 226.3L1094.9 224.4L1096.7 222.6L1098.6 220.9L1100.5 219.3L1102.3 217.8L1104.2 216.4L1106.0 215.1L1107.9 213.9L1109.8 212.7L1111.6 211.6L1113.5 210.5L1115.4 209.4L1117.2 208.3L1119.1 207.3L1121.0 206.3L1122.8 205.3L1124.7 204.3L1126.6 203.3L1128.4 202.3L1130.3 201.4L1132.2 200.5L1134.0 199.6L1135.9 198.7L1137.8 197.9L1139.6 197.2L1141.5 196.5L1143.3 195.8L1145.2 195.2L1147.1 194.6L1148.9 194.2L1150.8 193.7L1152.7 193.3L1154.5 193.0L1156.4 192.7L1158.3 192.4L1160.1 192.2L1162.0 192.0L1163.9 191.9L1165.7 191.8L1167.6 191.8L1169.5 191.8" stroke="#0aff68" stroke-width="1.1" fill="none" stroke-opacity="0.75"/><path d="M893.4 392.2L895.3 392.1L897.2 391.9L899.0 391.5L900.9 391.1L902.8 390.5L904.6 389.7L906.5 388.9L908.4 387.9L910.2 386.9L912.1 385.8L914.0 384.7L915.8 383.5L917.7 382.3L919.5 381.1L921.4 379.9L923.3 378.7L925.1 377.6L927.0 376.4L928.9 375.3L930.7 374.3L932.6 373.3L934.5 372.4L936.3 371.5L938.2 370.7L940.1 369.9L941.9 369.2L943.8 368.6L945.7 368.0L947.5 367.4L949.4 366.8L951.3 366.3L953.1 365.8L955.0 365.3L956.9 364.9L958.7 364.6L960.6 364.3L962.4 364.0L964.3 363.8L966.2 363.6L968.0 363.5L969.9 363.4L971.8 363.4L973.6 363.3L975.5 363.3L977.4 363.3L979.2 363.3L981.1 363.3L983.0 363.3L984.8 363.3L986.7 363.3L988.6 363.2L990.4 363.1L992.3 363.0L994.1 362.8L996.0 362.6L997.9 362.4L999.7 362.1L1001.6 361.8L1003.5 361.4L1005.3 361.1L1007.2 360.7L1009.1 360.2L1010.9 359.8L1012.8 359.3L1014.7 358.7L1016.5 358.2L1018.4 357.6L1020.3 356.9L1022.1 356.2L1024.0 355.5L1025.9 354.7L1027.7 353.9L1029.6 352.9L1031.4 351.9L1033.3 350.9L1035.2 349.7L1037.0 348.4L1038.9 347.0L1040.8 345.4L1042.6 343.7L1044.5 341.9L1046.4 339.9L1048.2 337.8L1050.1 335.5L1052.0 333.1L1053.8 330.6L1055.7 327.8L1057.6 325.0L1059.4 321.9L1061.3 318.7L1063.2 315.5L1065.0 312.1L1066.9 308.6L1068.8 305.2L1070.6 301.7L1072.5 298.3L1074.3 295.0L1076.2 291.7L1078.1 288.6L1079.9 285.6L1081.8 282.7L1083.7 280.0L1085.5 277.4L1087.4 274.9L1089.3 272.6L1091.1 270.4L1093.0 268.4L1094.9 266.4L1096.7 264.6L1098.6 262.9L1100.5 261.2L1102.3 259.6L1104.2 258.1L1106.0 256.7L1107.9 255.3L1109.8 253.9L1111.6 252.6L1113.5 251.3L1115.4 250.0L1117.2 248.8L1119.1 247.5L1121.0 246.3L1122.8 245.0L1124.7 243.8L1126.6 242.6L1128.4 241.4L1130.3 240.2L1132.2 239.1L1134.0 238.0L1135.9 236.9L1137.8 235.9L1139.6 235.0L1141.5 234.1L1143.3 233.2L1145.2 232.5L1147.1 231.7L1148.9 231.1L1150.8 230.5L1152.7 230.0L1154.5 229.5L1156.4 229.1L1158.3 228.7L1160.1 228.4L1162.0 228.1L1163.9 227.8L1165.7 227.6L1167.6 227.5L1169.5 227.4" stroke="#0aff68" stroke-width="1.1" fill="none" stroke-opacity="0.75"/><path d="M893.4 372.5L895.3 372.4L897.2 372.2L899.0 371.8L900.9 371.3L902.8 370.7L904.6 370.0L906.5 369.1L908.4 368.2L910.2 367.2L912.1 366.1L914.0 365.0L915.8 363.9L917.7 362.7L919.5 361.5L921.4 360.4L923.3 359.2L925.1 358.1L927.0 357.0L928.9 356.0L930.7 354.9L932.6 354.0L934.5 353.1L936.3 352.2L938.2 351.4L940.1 350.7L941.9 350.0L943.8 349.4L945.7 348.8L947.5 348.2L949.4 347.7L951.3 347.2L953.1 346.8L955.0 346.4L956.9 346.0L958.7 345.6L960.6 345.3L962.4 345.1L964.3 344.8L966.2 344.6L968.0 344.5L969.9 344.3L971.8 344.2L973.6 344.2L975.5 344.1L977.4 344.1L979.2 344.0L981.1 344.0L983.0 343.9L984.8 343.9L986.7 343.9L988.6 343.8L990.4 343.8L992.3 343.7L994.1 343.6L996.0 343.5L997.9 343.3L999.7 343.2L1001.6 343.0L1003.5 342.7L1005.3 342.5L1007.2 342.2L1009.1 341.9L1010.9 341.5L1012.8 341.2L1014.7 340.8L1016.5 340.3L1018.4 339.9L1020.3 339.3L1022.1 338.8L1024.0 338.2L1025.9 337.5L1027.7 336.7L1029.6 335.9L1031.4 335.0L1033.3 333.9L1035.2 332.7L1037.0 331.4L1038.9 329.9L1040.8 328.2L1042.6 326.3L1044.5 324.3L1046.4 322.0L1048.2 319.6L1050.1 317.0L1052.0 314.1L1053.8 311.1L1055.7 307.9L1057.6 304.6L1059.4 301.1L1061.3 297.5L1063.2 293.9L1065.0 290.2L1066.9 286.5L1068.8 282.8L1070.6 279.1L1072.5 275.5L1074.3 272.0L1076.2 268.6L1078.1 265.3L1079.9 262.2L1081.8 259.2L1083.7 256.4L1085.5 253.7L1087.4 251.2L1089.3 248.9L1091.1 246.7L1093.0 244.6L1094.9 242.7L1096.7 240.9L1098.6 239.2L1100.5 237.6L1102.3 236.0L1104.2 234.6L1106.0 233.2L1107.9 231.9L1109.8 230.7L1111.6 229.5L1113.5 228.3L1115.4 227.2L1117.2 226.0L1119.1 224.9L1121.0 223.8L1122.8 222.7L1124.7 221.6L1126.6 220.6L1128.4 219.5L1130.3 218.5L1132.2 217.5L1134.0 216.5L1135.9 215.6L1137.8 214.7L1139.6 213.9L1141.5 213.1L1143.3 212.3L1145.2 211.7L1147.1 211.1L1148.9 210.5L1150.8 210.0L1152.7 209.6L1154.5 209.2L1156.4 208.8L1158.3 208.5L1160.1 208.3L1162.0 208.0L1163.9 207.9L1165.7 207.7L1167.6 207.6L1169.5 207.6" stroke="#0aff68" stroke-width="2.8" fill="none" stroke-linecap="butt"/><path d="M1169.5 191.8L1171.3 191.8L1173.2 191.9L1175.1 192.1L1176.9 192.3L1178.8 192.5L1180.7 192.8L1182.5 193.2L1184.4 193.7L1186.2 194.1L1188.1 194.7L1190.0 195.3L1191.8 196.0L1193.7 196.7L1195.6 197.4L1197.4 198.3L1199.3 199.1L1201.2 200.1L1203.0 201.0L1204.9 202.0L1206.8 203.1L1208.6 204.2L1210.5 205.3L1212.4 206.5L1214.2 207.7L1216.1 208.9L1217.9 210.1L1219.8 211.4L1221.7 212.7L1223.5 214.0L1225.4 215.4L1227.3 216.8L1229.1 218.1L1231.0 219.5L1232.9 220.9L1234.7 222.4L1236.6 223.8L1238.5 225.2L1240.3 226.6L1242.2 227.9L1244.1 229.3L1245.9 230.6L1247.8 231.9L1249.7 233.1L1251.5 234.3L1253.4 235.4L1255.2 236.5L1257.1 237.5L1259.0 238.4L1260.8 239.3L1262.7 240.1L1264.6 240.8L1266.4 241.4L1268.3 242.0L1270.2 242.5L1272.0 242.9L1273.9 243.3L1275.8 243.6L1277.6 243.8L1279.5 244.0L1281.4 244.1L1283.2 244.2L1283.2 272.1L1281.4 272.2L1279.5 272.2L1277.6 272.1L1275.8 272.0L1273.9 271.8L1272.0 271.6L1270.2 271.2L1268.3 270.8L1266.4 270.4L1264.6 269.9L1262.7 269.3L1260.8 268.6L1259.0 267.9L1257.1 267.1L1255.2 266.2L1253.4 265.3L1251.5 264.3L1249.7 263.3L1247.8 262.2L1245.9 261.1L1244.1 260.0L1242.2 258.8L1240.3 257.6L1238.5 256.4L1236.6 255.2L1234.7 254.0L1232.9 252.7L1231.0 251.5L1229.1 250.3L1227.3 249.1L1225.4 247.9L1223.5 246.7L1221.7 245.5L1219.8 244.3L1217.9 243.2L1216.1 242.1L1214.2 241.0L1212.4 239.9L1210.5 238.9L1208.6 237.9L1206.8 236.9L1204.9 236.0L1203.0 235.0L1201.2 234.2L1199.3 233.3L1197.4 232.5L1195.6 231.8L1193.7 231.1L1191.8 230.5L1190.0 229.9L1188.1 229.3L1186.2 228.9L1184.4 228.4L1182.5 228.1L1180.7 227.8L1178.8 227.6L1176.9 227.4L1175.1 227.3L1173.2 227.3L1171.3 227.3L1169.5 227.4Z" fill="#ff0a5a" fill-opacity="0.26" stroke="none"/><path d="M1169.5 191.8L1171.3 191.8L1173.2 191.9L1175.1 192.1L1176.9 192.3L1178.8 192.5L1180.7 192.8L1182.5 193.2L1184.4 193.7L1186.2 194.1L1188.1 194.7L1190.0 195.3L1191.8 196.0L1193.7 196.7L1195.6 197.4L1197.4 198.3L1199.3 199.1L1201.2 200.1L1203.0 201.0L1204.9 202.0L1206.8 203.1L1208.6 204.2L1210.5 205.3L1212.4 206.5L1214.2 207.7L1216.1 208.9L1217.9 210.1L1219.8 211.4L1221.7 212.7L1223.5 214.0L1225.4 215.4L1227.3 216.8L1229.1 218.1L1231.0 219.5L1232.9 220.9L1234.7 222.4L1236.6 223.8L1238.5 225.2L1240.3 226.6L1242.2 227.9L1244.1 229.3L1245.9 230.6L1247.8 231.9L1249.7 233.1L1251.5 234.3L1253.4 235.4L1255.2 236.5L1257.1 237.5L1259.0 238.4L1260.8 239.3L1262.7 240.1L1264.6 240.8L1266.4 241.4L1268.3 242.0L1270.2 242.5L1272.0 242.9L1273.9 243.3L1275.8 243.6L1277.6 243.8L1279.5 244.0L1281.4 244.1L1283.2 244.2" stroke="#ff0a5a" stroke-width="1.1" fill="none" stroke-opacity="0.75"/><path d="M1169.5 227.4L1171.3 227.3L1173.2 227.3L1175.1 227.3L1176.9 227.4L1178.8 227.6L1180.7 227.8L1182.5 228.1L1184.4 228.4L1186.2 228.9L1188.1 229.3L1190.0 229.9L1191.8 230.5L1193.7 231.1L1195.6 231.8L1197.4 232.5L1199.3 233.3L1201.2 234.2L1203.0 235.0L1204.9 236.0L1206.8 236.9L1208.6 237.9L1210.5 238.9L1212.4 239.9L1214.2 241.0L1216.1 242.1L1217.9 243.2L1219.8 244.3L1221.7 245.5L1223.5 246.7L1225.4 247.9L1227.3 249.1L1229.1 250.3L1231.0 251.5L1232.9 252.7L1234.7 254.0L1236.6 255.2L1238.5 256.4L1240.3 257.6L1242.2 258.8L1244.1 260.0L1245.9 261.1L1247.8 262.2L1249.7 263.3L1251.5 264.3L1253.4 265.3L1255.2 266.2L1257.1 267.1L1259.0 267.9L1260.8 268.6L1262.7 269.3L1264.6 269.9L1266.4 270.4L1268.3 270.8L1270.2 271.2L1272.0 271.6L1273.9 271.8L1275.8 272.0L1277.6 272.1L1279.5 272.2L1281.4 272.2L1283.2 272.1" stroke="#ff0a5a" stroke-width="1.1" fill="none" stroke-opacity="0.75"/><path d="M1169.5 207.6L1171.3 207.6L1173.2 207.7L1175.1 207.8L1176.9 207.9L1178.8 208.1L1180.7 208.4L1182.5 208.8L1184.4 209.2L1186.2 209.6L1188.1 210.1L1190.0 210.7L1191.8 211.4L1193.7 212.1L1195.6 212.8L1197.4 213.6L1199.3 214.4L1201.2 215.3L1203.0 216.2L1204.9 217.2L1206.8 218.2L1208.6 219.3L1210.5 220.4L1212.4 221.5L1214.2 222.6L1216.1 223.8L1217.9 225.0L1219.8 226.2L1221.7 227.4L1223.5 228.7L1225.4 230.0L1227.3 231.3L1229.1 232.6L1231.0 233.9L1232.9 235.3L1234.7 236.6L1236.6 237.9L1238.5 239.3L1240.3 240.6L1242.2 241.9L1244.1 243.2L1245.9 244.4L1247.8 245.6L1249.7 246.8L1251.5 247.9L1253.4 249.0L1255.2 250.0L1257.1 250.9L1259.0 251.8L1260.8 252.6L1262.7 253.4L1264.6 254.0L1266.4 254.6L1268.3 255.1L1270.2 255.6L1272.0 256.0L1273.9 256.3L1275.8 256.5L1277.6 256.7L1279.5 256.9L1281.4 256.9L1283.2 256.9" stroke="#ff0a5a" stroke-width="2.8" fill="none" stroke-linecap="butt"/><path d="M1283.2 244.2L1285.1 244.2L1287.0 244.2L1288.8 244.1L1290.7 244.0L1292.5 243.8L1294.4 243.7L1296.3 243.5L1298.1 243.3L1300.0 243.2L1301.9 243.0L1303.7 242.8L1305.6 242.6L1307.5 242.3L1309.3 242.1L1311.2 241.9L1313.1 241.6L1314.9 241.3L1316.8 241.0L1318.7 240.7L1320.5 240.3L1322.4 239.9L1324.3 239.5L1326.1 239.0L1328.0 238.4L1329.8 237.8L1331.7 237.1L1333.6 236.4L1335.4 235.7L1337.3 234.9L1339.2 234.0L1341.0 233.1L1342.9 232.1L1344.8 231.0L1346.6 229.9L1348.5 228.7L1350.4 227.4L1352.2 226.0L1354.1 224.6L1356.0 223.1L1357.8 221.6L1359.7 220.0L1361.6 218.4L1363.4 216.7L1365.3 215.1L1367.2 213.4L1369.0 211.7L1370.9 210.0L1372.7 208.3L1374.6 206.6L1376.5 205.0L1378.3 203.4L1380.2 201.8L1382.1 200.2L1383.9 198.7L1385.8 197.2L1387.7 195.8L1389.5 194.4L1391.4 193.1L1393.3 191.9L1395.1 190.6L1397.0 189.5L1398.9 188.4L1400.7 187.3L1402.6 186.3L1404.4 185.4L1406.3 184.5L1408.2 183.6L1410.0 182.8L1411.9 181.9L1413.8 181.1L1415.6 180.3L1417.5 179.5L1419.4 178.7L1421.2 177.8L1423.1 177.0L1425.0 176.1L1426.8 175.2L1428.7 174.3L1430.6 173.3L1432.4 172.3L1434.3 171.3L1436.2 170.3L1438.0 169.3L1439.0 168.8L1439.0 193.9L1438.0 194.5L1436.2 195.7L1434.3 196.8L1432.4 197.9L1430.6 199.0L1428.7 200.0L1426.8 201.0L1425.0 201.9L1423.1 202.9L1421.2 203.8L1419.4 204.6L1417.5 205.4L1415.6 206.2L1413.8 207.0L1411.9 207.8L1410.0 208.6L1408.2 209.4L1406.3 210.3L1404.4 211.1L1402.6 212.0L1400.7 213.0L1398.9 214.0L1397.0 215.0L1395.1 216.1L1393.3 217.3L1391.4 218.5L1389.5 219.8L1387.7 221.1L1385.8 222.5L1383.9 223.9L1382.1 225.4L1380.2 226.9L1378.3 228.5L1376.5 230.1L1374.6 231.7L1372.7 233.4L1370.9 235.0L1369.0 236.6L1367.2 238.3L1365.3 239.9L1363.4 241.5L1361.6 243.0L1359.7 244.6L1357.8 246.1L1356.0 247.5L1354.1 248.9L1352.2 250.2L1350.4 251.5L1348.5 252.7L1346.6 253.8L1344.8 254.9L1342.9 255.9L1341.0 256.9L1339.2 257.8L1337.3 258.6L1335.4 259.5L1333.6 260.3L1331.7 261.1L1329.8 261.8L1328.0 262.6L1326.1 263.2L1324.3 263.9L1322.4 264.5L1320.5 265.0L1318.7 265.6L1316.8 266.1L1314.9 266.5L1313.1 267.0L1311.2 267.4L1309.3 267.8L1307.5 268.3L1305.6 268.7L1303.7 269.0L1301.9 269.4L1300.0 269.8L1298.1 270.2L1296.3 270.5L1294.4 270.9L1292.5 271.2L1290.7 271.4L1288.8 271.7L1287.0 271.9L1285.1 272.0L1283.2 272.1Z" fill="#0aff68" fill-opacity="0.28" stroke="none"/><path d="M1283.2 244.2L1285.1 244.2L1287.0 244.2L1288.8 244.1L1290.7 244.0L1292.5 243.8L1294.4 243.7L1296.3 243.5L1298.1 243.3L1300.0 243.2L1301.9 243.0L1303.7 242.8L1305.6 242.6L1307.5 242.3L1309.3 242.1L1311.2 241.9L1313.1 241.6L1314.9 241.3L1316.8 241.0L1318.7 240.7L1320.5 240.3L1322.4 239.9L1324.3 239.5L1326.1 239.0L1328.0 238.4L1329.8 237.8L1331.7 237.1L1333.6 236.4L1335.4 235.7L1337.3 234.9L1339.2 234.0L1341.0 233.1L1342.9 232.1L1344.8 231.0L1346.6 229.9L1348.5 228.7L1350.4 227.4L1352.2 226.0L1354.1 224.6L1356.0 223.1L1357.8 221.6L1359.7 220.0L1361.6 218.4L1363.4 216.7L1365.3 215.1L1367.2 213.4L1369.0 211.7L1370.9 210.0L1372.7 208.3L1374.6 206.6L1376.5 205.0L1378.3 203.4L1380.2 201.8L1382.1 200.2L1383.9 198.7L1385.8 197.2L1387.7 195.8L1389.5 194.4L1391.4 193.1L1393.3 191.9L1395.1 190.6L1397.0 189.5L1398.9 188.4L1400.7 187.3L1402.6 186.3L1404.4 185.4L1406.3 184.5L1408.2 183.6L1410.0 182.8L1411.9 181.9L1413.8 181.1L1415.6 180.3L1417.5 179.5L1419.4 178.7L1421.2 177.8L1423.1 177.0L1425.0 176.1L1426.8 175.2L1428.7 174.3L1430.6 173.3L1432.4 172.3L1434.3 171.3L1436.2 170.3L1438.0 169.3L1439.0 168.8" stroke="#0aff68" stroke-width="1.1" fill="none" stroke-opacity="0.75"/><path d="M1283.2 272.1L1285.1 272.0L1287.0 271.9L1288.8 271.7L1290.7 271.4L1292.5 271.2L1294.4 270.9L1296.3 270.5L1298.1 270.2L1300.0 269.8L1301.9 269.4L1303.7 269.0L1305.6 268.7L1307.5 268.3L1309.3 267.8L1311.2 267.4L1313.1 267.0L1314.9 266.5L1316.8 266.1L1318.7 265.6L1320.5 265.0L1322.4 264.5L1324.3 263.9L1326.1 263.2L1328.0 262.6L1329.8 261.8L1331.7 261.1L1333.6 260.3L1335.4 259.5L1337.3 258.6L1339.2 257.8L1341.0 256.9L1342.9 255.9L1344.8 254.9L1346.6 253.8L1348.5 252.7L1350.4 251.5L1352.2 250.2L1354.1 248.9L1356.0 247.5L1357.8 246.1L1359.7 244.6L1361.6 243.0L1363.4 241.5L1365.3 239.9L1367.2 238.3L1369.0 236.6L1370.9 235.0L1372.7 233.4L1374.6 231.7L1376.5 230.1L1378.3 228.5L1380.2 226.9L1382.1 225.4L1383.9 223.9L1385.8 222.5L1387.7 221.1L1389.5 219.8L1391.4 218.5L1393.3 217.3L1395.1 216.1L1397.0 215.0L1398.9 214.0L1400.7 213.0L1402.6 212.0L1404.4 211.1L1406.3 210.3L1408.2 209.4L1410.0 208.6L1411.9 207.8L1413.8 207.0L1415.6 206.2L1417.5 205.4L1419.4 204.6L1421.2 203.8L1423.1 202.9L1425.0 201.9L1426.8 201.0L1428.7 200.0L1430.6 199.0L1432.4 197.9L1434.3 196.8L1436.2 195.7L1438.0 194.5L1439.0 193.9" stroke="#0aff68" stroke-width="1.1" fill="none" stroke-opacity="0.75"/><path d="M1283.2 256.9L1285.1 256.9L1287.0 256.8L1288.8 256.7L1290.7 256.5L1292.5 256.3L1294.4 256.1L1296.3 255.9L1298.1 255.6L1300.0 255.4L1301.9 255.1L1303.7 254.8L1305.6 254.5L1307.5 254.3L1309.3 254.0L1311.2 253.6L1313.1 253.3L1314.9 253.0L1316.8 252.6L1318.7 252.2L1320.5 251.7L1322.4 251.3L1324.3 250.7L1326.1 250.2L1328.0 249.6L1329.8 248.9L1331.7 248.2L1333.6 247.5L1335.4 246.7L1337.3 245.9L1339.2 245.0L1341.0 244.1L1342.9 243.1L1344.8 242.1L1346.6 240.9L1348.5 239.8L1350.4 238.5L1352.2 237.2L1354.1 235.8L1356.0 234.4L1357.8 232.9L1359.7 231.3L1361.6 229.8L1363.4 228.1L1365.3 226.5L1367.2 224.9L1369.0 223.2L1370.9 221.5L1372.7 219.9L1374.6 218.2L1376.5 216.6L1378.3 215.0L1380.2 213.4L1382.1 211.8L1383.9 210.3L1385.8 208.9L1387.7 207.5L1389.5 206.1L1391.4 204.8L1393.3 203.6L1395.1 202.4L1397.0 201.2L1398.9 200.2L1400.7 199.1L1402.6 198.1L1404.4 197.2L1406.3 196.3L1408.2 195.5L1410.0 194.6L1411.9 193.8L1413.8 193.0L1415.6 192.2L1417.5 191.4L1419.4 190.6L1421.2 189.7L1423.1 188.9L1425.0 188.0L1426.8 187.0L1428.7 186.1L1430.6 185.1L1432.4 184.1L1434.3 183.1L1436.2 182.0L1438.0 180.9L1439.0 180.4" stroke="#0aff68" stroke-width="2.8" fill="none" stroke-linecap="butt"/>
<path d="M103.5 787.4V834.9" stroke="#4fd0a8" stroke-width="1"/>
<path d="M267.5 789.0V804.5M269.5 780.6V795.3M271.5 761.2V783.1M272.5 739.9V766.4M278.5 655.7V697.6M282.5 679.0V733.1M284.5 671.4V684.3M287.5 683.2V687.8M289.5 680.0V686.7M291.5 672.6V684.6M300.5 697.8V702.8M306.5 701.9V709.4M308.5 692.0V703.5M310.5 691.6V694.6M313.5 687.8V692.1M315.5 679.6V689.6M317.5 678.4V685.2M319.5 677.1V681.0M321.5 676.3V681.9M323.5 675.6V679.0M325.5 668.6V678.9M328.5 664.8V673.8M330.5 651.5V666.9M332.5 641.1V655.2M334.5 614.7V644.6M336.5 600.2V620.4M338.5 570.0V601.9M340.5 520.6V571.9M341.5 494.7V531.9M345.5 521.9V532.9M349.5 531.7V549.5M351.5 515.9V538.0M356.5 526.8V532.0M358.5 524.2V529.2M368.5 546.3V560.3M379.5 564.2V582.9M384.5 574.2V579.8M388.5 556.3V570.7M390.5 543.0V557.6M392.5 544.9V550.3M395.5 550.7V554.9M397.5 544.2V553.3M399.5 546.6V552.0M416.5 569.4V573.4M425.5 587.9V602.0M435.5 576.0V600.3M450.5 614.0V619.3M453.5 607.0V639.1M457.5 625.2V631.9M461.5 621.8V630.0M463.5 620.0V631.2M464.5 611.7V623.3M466.5 611.9V617.4M474.5 628.1V636.1M478.5 627.6V634.5M479.5 625.9V631.2M491.5 624.8V632.7M492.5 623.0V627.7M494.5 618.4V625.8M496.5 607.2V623.8M504.5 609.6V614.9M513.5 628.7V632.6M517.5 626.1V638.8M519.5 626.7V634.0M520.5 617.8V630.2M524.5 618.5V629.5M526.5 609.0V624.1M530.5 567.6V603.6M533.5 594.6V606.5M535.5 586.5V598.2M537.5 585.5V592.4M539.5 576.2V588.9M541.5 573.4V583.6M545.5 577.7V585.7M554.5 583.2V593.4M556.5 576.9V585.6M558.5 576.2V579.8M561.5 574.7V587.7M565.5 580.6V588.2M567.5 579.7V584.6M571.5 575.7V588.7M573.5 578.8V580.8M575.5 573.2V581.0M578.5 570.7V576.8M580.5 567.2V575.5M582.5 562.6V572.0M584.5 561.9V566.8M586.5 552.3V566.9M588.5 543.3V555.5M589.5 532.0V544.9M593.5 547.3V550.5M595.5 546.0V550.1M597.5 541.4V548.9M606.5 547.5V558.3M612.5 546.6V559.6M616.5 547.4V560.3M617.5 550.1V554.5M619.5 546.4V552.5M621.5 542.3V549.7M623.5 544.8V547.6M625.5 539.3V547.8M627.5 538.1V541.9M630.5 536.8V543.6M634.5 531.9V541.7M638.5 526.7V537.6M640.5 520.5V533.2M642.5 509.1V527.0M647.5 525.3V532.2M649.5 516.4V533.2M651.5 507.6V520.7M653.5 507.8V512.7M655.5 506.3V512.9M658.5 490.0V498.2M666.5 501.3V518.5M668.5 500.2V506.5M670.5 500.8V503.7M672.5 493.6V503.5M673.5 481.7V499.2M675.5 476.3V485.1M677.5 460.0V477.9M679.5 454.0V463.9M681.5 430.5V463.0M683.5 439.0V450.1M685.5 424.9V442.3M688.5 432.5V442.6M696.5 428.4V461.8M698.5 424.0V434.8M701.5 413.8V420.3M703.5 392.4V418.5M707.5 383.9V394.3M713.5 399.3V410.7M714.5 393.1V402.5M716.5 384.6V395.1M722.5 356.7V366.6M724.5 350.2V362.9M727.5 342.0V374.8M729.5 327.5V346.1M731.5 316.5V328.7M733.5 281.7V319.8M735.5 273.6V295.3M739.5 298.0V303.7M741.5 284.9V302.2M752.5 323.6V345.6M755.5 323.6V332.0M765.5 351.6V362.8M767.5 341.4V358.5M768.5 329.7V346.1M770.5 331.4V335.9M772.5 328.6V334.3M787.5 361.0V372.0M789.5 358.5V367.4M791.5 352.8V362.4M793.5 348.1V360.3M795.5 341.4V357.0M800.5 361.3V367.7M804.5 350.7V365.7M808.5 363.0V366.3M810.5 358.4V365.4M813.5 360.5V368.1M817.5 362.2V367.9M821.5 361.5V368.7M823.5 363.0V367.9M836.5 395.4V405.3M837.5 399.9V405.3M841.5 405.4V413.6M847.5 406.2V414.4M851.5 397.5V412.4M852.5 398.9V408.2M854.5 395.8V402.9M858.5 399.8V405.7M862.5 379.7V389.4M865.5 377.6V387.2M869.5 369.8V383.8M871.5 355.6V372.9M875.5 336.6V346.7M880.5 336.6V350.5M882.5 318.3V341.0M886.5 315.6V323.1M892.5 321.4V324.0M893.5 318.7V324.4M895.5 311.7V322.0M903.5 325.5V334.3M905.5 324.6V327.9M910.5 342.9V346.4M912.5 342.3V347.6M914.5 333.5V344.4M916.5 324.3V353.3M918.5 329.1V334.1M925.5 355.8V359.6M927.5 349.5V359.0M933.5 348.1V356.9M936.5 347.6V355.0M938.5 337.7V351.8M940.5 333.4V340.9M942.5 326.7V339.4M944.5 325.5V330.3M955.5 370.0V380.5M957.5 361.6V373.8M959.5 357.7V367.6M961.5 351.4V362.6M962.5 350.6V356.8M966.5 334.9V353.8M972.5 336.6V344.9M974.5 328.3V340.0M977.5 329.0V337.7M981.5 333.4V337.7M985.5 330.5V338.9M989.5 324.7V336.1M990.5 318.5V331.5M992.5 314.5V321.4M994.5 311.2V320.5M998.5 315.8V323.8M1003.5 321.7V332.9M1005.5 321.3V324.0M1011.5 315.5V325.8M1013.5 305.9V320.8M1015.5 297.5V307.7M1017.5 291.3V299.2M1018.5 284.5V296.3M1020.5 277.8V288.6M1024.5 273.1V284.4M1026.5 272.0V278.7M1028.5 257.5V276.7M1030.5 247.6V260.6M1031.5 232.1V256.5M1033.5 213.7V234.1M1039.5 228.7V235.7M1041.5 218.2V236.0M1043.5 199.3V222.3M1045.5 187.3V205.0M1048.5 194.0V209.1M1050.5 182.7V199.5M1054.5 189.7V199.0M1056.5 185.1V192.8M1058.5 184.0V187.7M1063.5 189.0V203.9M1065.5 186.9V194.2M1071.5 225.5V231.2M1072.5 220.6V228.5M1074.5 217.5V225.5M1080.5 226.1V231.2M1086.5 226.6V242.3M1087.5 212.6V228.2M1089.5 207.0V220.3M1091.5 199.6V212.2M1093.5 198.6V207.3M1095.5 195.9V201.7M1097.5 194.3V199.7M1104.5 202.0V217.4M1106.5 191.7V205.0M1108.5 179.7V193.8M1112.5 175.6V186.7M1115.5 173.9V183.2M1127.5 196.4V207.7M1136.5 220.3V232.9M1140.5 206.6V224.8M1145.5 207.3V223.3M1147.5 209.3V222.1M1151.5 200.9V214.0M1158.5 212.3V220.5M1168.5 240.5V245.1M1175.5 263.7V271.2M1179.5 272.1V276.3M1181.5 263.6V277.9M1183.5 261.5V266.7M1184.5 256.4V263.6M1186.5 252.4V263.3M1196.5 265.2V273.6M1201.5 270.2V278.9M1207.5 270.7V278.9M1209.5 267.2V274.7M1210.5 266.7V272.4M1214.5 285.4V293.0M1218.5 284.6V294.4M1222.5 283.0V289.5M1227.5 279.9V292.1M1229.5 267.0V284.0M1231.5 260.1V273.3M1235.5 260.0V265.4M1237.5 256.6V264.9M1246.5 244.8V273.5M1250.5 240.9V249.0M1252.5 233.9V249.3M1257.5 243.5V250.0M1265.5 243.1V258.3M1272.5 237.0V254.1M1274.5 233.8V240.1M1289.5 247.2V253.2M1294.5 248.6V255.3M1298.5 242.8V251.8M1302.5 236.7V248.9M1306.5 228.2V241.3M1309.5 222.6V234.6M1311.5 221.4V228.8M1313.5 216.9V224.4M1315.5 216.6V220.8M1317.5 208.6V221.7M1322.5 208.7V214.6M1326.5 201.2V223.1M1328.5 206.1V214.7M1332.5 202.7V217.7M1334.5 199.5V205.9M1335.5 195.3V203.6M1337.5 188.5V200.4M1339.5 176.1V193.5M1341.5 173.1V181.6M1347.5 169.0V177.9M1350.5 176.3V180.0M1354.5 173.0V179.4M1358.5 174.0V185.0M1362.5 170.5V180.4M1363.5 165.2V176.3M1375.5 183.9V191.3M1376.5 173.7V186.2M1378.5 171.8V177.8M1382.5 184.3V201.2M1384.5 180.7V188.2M1386.5 177.6V184.1M1393.5 178.4V193.5M1399.5 177.9V186.0M1401.5 168.9V184.9M1406.5 160.8V174.8M1408.5 149.6V162.5M1414.5 141.1V152.2M1416.5 138.2V144.6M1421.5 144.6V151.5M1425.5 141.4V150.0M1434.5 144.4V148.1" stroke="#4ce65a" stroke-width="1" fill="none"/>
<path d="M280.5 618.0V743.9M285.5 671.0V714.0M293.5 674.6V679.8M295.5 674.5V686.9M297.5 681.1V697.7M299.5 694.3V701.8M302.5 696.6V729.3M326.5 665.5V692.2M343.5 495.0V555.7M347.5 519.9V581.5M353.5 512.2V524.2M354.5 522.3V530.5M360.5 520.0V543.9M362.5 540.6V564.4M364.5 545.7V553.2M366.5 551.7V581.5M369.5 546.7V550.2M371.5 549.0V557.9M373.5 554.8V575.7M375.5 573.5V577.3M377.5 574.7V598.4M381.5 565.2V574.8M382.5 571.0V582.4M394.5 545.3V556.2M401.5 547.3V550.3M403.5 546.0V550.9M407.5 551.0V558.0M410.5 559.0V577.8M412.5 564.9V574.6M414.5 567.4V572.5M418.5 569.4V577.6M420.5 574.9V586.9M422.5 581.9V593.5M423.5 588.0V611.1M429.5 585.3V596.5M431.5 591.4V595.6M433.5 593.9V600.2M438.5 585.5V590.5M440.5 588.6V596.5M442.5 592.2V597.1M444.5 593.5V603.9M446.5 600.7V613.5M448.5 608.3V618.8M451.5 616.9V658.6M455.5 620.1V631.9M459.5 625.1V630.8M468.5 609.3V614.8M470.5 612.8V628.8M472.5 623.5V636.9M483.5 624.1V627.5M485.5 623.0V631.4M489.5 626.2V632.2M498.5 604.5V612.1M506.5 611.6V621.0M507.5 616.5V625.6M509.5 623.4V641.6M511.5 626.5V632.2M515.5 625.1V638.5M522.5 621.7V625.2M532.5 589.8V606.3M543.5 576.7V585.8M547.5 574.4V585.8M548.5 583.6V596.1M550.5 586.1V591.6M552.5 589.9V592.8M560.5 575.9V590.3M563.5 575.8V586.6M569.5 578.8V586.8M576.5 572.9V577.7M591.5 529.7V559.9M599.5 541.7V546.8M601.5 545.2V550.8M602.5 548.6V572.5M604.5 550.5V557.0M610.5 555.6V563.5M614.5 548.1V557.1M629.5 538.1V547.8M632.5 535.4V542.2M645.5 517.8V530.3M660.5 492.2V513.0M662.5 498.2V511.1M664.5 508.1V521.5M686.5 425.9V452.9M690.5 430.7V436.7M692.5 434.6V441.8M694.5 436.9V463.9M709.5 389.1V399.2M711.5 396.2V424.9M737.5 275.5V322.0M742.5 287.7V306.2M744.5 302.4V334.9M746.5 314.2V334.1M748.5 330.1V345.9M750.5 343.3V370.4M754.5 315.0V332.1M757.5 326.5V334.1M759.5 330.6V344.8M761.5 339.4V349.7M763.5 344.4V361.8M774.5 327.9V341.1M776.5 334.1V341.9M778.5 340.3V357.0M780.5 349.5V359.4M782.5 356.9V360.7M783.5 359.0V362.0M785.5 357.4V368.6M796.5 341.2V352.2M798.5 349.3V369.0M802.5 358.7V367.1M806.5 352.2V367.0M811.5 357.8V369.0M815.5 357.7V366.8M819.5 362.9V368.3M824.5 362.1V376.8M826.5 371.5V410.9M830.5 402.2V410.8M832.5 408.3V421.0M839.5 399.7V412.4M845.5 407.5V414.0M849.5 405.4V411.4M856.5 397.7V406.7M864.5 378.5V386.1M867.5 376.2V380.6M877.5 334.9V341.1M879.5 335.6V351.1M884.5 301.9V323.6M888.5 315.0V321.9M890.5 316.3V335.7M897.5 315.1V325.0M899.5 320.3V332.1M901.5 323.9V332.3M906.5 322.9V331.9M908.5 327.4V347.1M920.5 328.7V339.4M921.5 333.9V349.8M923.5 345.9V362.6M929.5 346.2V355.3M931.5 350.9V363.5M934.5 348.7V354.4M946.5 324.3V331.2M948.5 324.1V334.1M949.5 329.4V341.5M951.5 338.3V351.6M953.5 344.7V404.5M968.5 327.8V340.1M970.5 335.5V343.3M976.5 331.7V335.9M979.5 330.8V339.5M983.5 333.6V337.2M987.5 332.7V335.7M996.5 313.3V322.8M1000.5 313.3V328.3M1002.5 322.5V333.6M1007.5 320.0V323.6M1009.5 320.4V325.7M1022.5 277.4V289.2M1035.5 219.4V227.7M1037.5 225.2V243.4M1046.5 185.8V211.3M1059.5 178.9V191.4M1061.5 189.8V204.5M1067.5 186.0V210.0M1069.5 204.9V240.4M1076.5 218.8V229.1M1078.5 224.1V243.7M1082.5 222.5V233.0M1084.5 224.5V238.6M1099.5 195.1V212.0M1100.5 204.3V209.3M1102.5 205.6V218.2M1110.5 176.2V185.1M1114.5 175.5V184.4M1117.5 175.9V189.0M1119.5 185.9V194.5M1121.5 188.2V213.5M1123.5 198.8V203.4M1125.5 197.6V207.9M1128.5 196.0V205.4M1130.5 201.1V214.8M1132.5 212.0V219.8M1134.5 215.8V230.4M1138.5 220.8V224.4M1141.5 211.1V217.2M1143.5 211.6V229.7M1153.5 202.5V207.0M1155.5 204.8V214.6M1156.5 210.3V220.4M1160.5 213.2V225.0M1162.5 217.5V233.2M1164.5 229.7V253.7M1169.5 241.3V248.3M1171.5 244.1V254.4M1173.5 246.0V283.0M1177.5 265.5V276.4M1188.5 253.7V262.4M1190.5 255.7V267.6M1192.5 261.6V270.8M1194.5 269.5V276.2M1197.5 264.7V272.0M1199.5 266.9V280.3M1203.5 273.4V277.5M1205.5 272.9V279.5M1212.5 267.3V293.2M1216.5 286.4V290.7M1220.5 283.3V289.2M1224.5 284.2V292.2M1233.5 259.7V264.4M1238.5 254.3V259.4M1240.5 253.1V265.7M1242.5 260.0V270.7M1244.5 264.6V274.4M1248.5 242.6V250.3M1255.5 236.1V248.9M1259.5 242.3V248.5M1261.5 245.9V249.7M1263.5 245.4V255.7M1266.5 243.3V246.4M1270.5 245.3V255.6M1276.5 233.0V240.2M1278.5 235.8V242.1M1279.5 237.5V243.8M1281.5 239.4V243.1M1283.5 241.3V246.3M1285.5 243.3V256.4M1291.5 247.2V252.0M1293.5 250.6V259.2M1296.5 248.2V252.8M1300.5 241.4V250.0M1304.5 233.3V240.9M1307.5 227.6V231.3M1319.5 206.3V211.2M1321.5 207.6V216.9M1324.5 210.8V217.9M1343.5 168.5V175.8M1345.5 172.6V184.0M1348.5 169.7V178.8M1352.5 177.2V185.6M1356.5 173.8V189.8M1360.5 174.2V178.4M1365.5 166.6V177.5M1367.5 170.1V178.7M1371.5 175.8V183.0M1373.5 179.0V194.2M1380.5 171.1V188.3M1390.5 184.4V195.7M1391.5 188.1V196.9M1403.5 173.3V176.0M1412.5 143.7V147.0M1418.5 137.8V149.9M1419.5 147.0V151.0M1423.5 142.1V149.5M1429.5 140.2V146.8M1431.5 144.3V151.6M1432.5 144.6V148.9M1436.5 146.1V163.9M1438.5 148.8V160.6" stroke="#ff6161" stroke-width="1" fill="none"/>
<path d="M274.5 723.5V743.0M276.5 691.6V725.2M304.5 706.8V721.2M312.5 687.4V695.6M386.5 564.8V578.6M405.5 547.8V555.5M409.5 553.1V560.6M427.5 584.4V590.1M437.5 582.1V594.9M476.5 630.5V633.7M481.5 624.9V628.8M487.5 627.4V632.8M500.5 608.9V612.1M502.5 608.8V614.7M528.5 599.8V613.7M608.5 547.5V557.9M636.5 531.7V538.3M644.5 500.3V535.2M657.5 495.9V511.0M699.5 417.8V427.6M705.5 389.7V400.9M718.5 370.8V388.9M720.5 364.9V374.8M726.5 347.2V376.0M828.5 400.6V404.3M834.5 397.5V418.9M843.5 404.5V413.4M860.5 387.5V402.2M873.5 340.8V358.2M964.5 348.4V353.6M1052.5 183.1V194.8M1149.5 208.6V215.2M1166.5 236.1V245.8M1225.5 286.7V289.8M1253.5 235.0V241.1M1268.5 243.8V252.2M1287.5 249.0V254.3M1330.5 206.9V220.5M1369.5 173.9V179.1M1388.5 177.2V191.0M1395.5 176.2V182.5M1397.5 177.2V181.9M1404.5 168.7V175.2M1410.5 144.5V153.9M1427.5 137.1V145.5" stroke="#3aa5c9" stroke-width="1" fill="none"/>
</g>
<g fill="#57b561"><rect x="1433.8" y="180.9" width="4.4" height="4.4" transform="rotate(-26 1436.0 183.1)"/><rect x="1444.6" y="175.7" width="4.4" height="4.4" transform="rotate(-26 1446.8 177.9)"/><rect x="1455.4" y="170.5" width="4.4" height="4.4" transform="rotate(-26 1457.6 172.7)"/><rect x="1466.2" y="165.3" width="4.4" height="4.4" transform="rotate(-26 1468.4 167.5)"/><rect x="1477.0" y="160.1" width="4.4" height="4.4" transform="rotate(-26 1479.2 162.3)"/><rect x="1487.8" y="154.8" width="4.4" height="4.4" transform="rotate(-26 1490.0 157.0)"/><rect x="1498.5" y="149.6" width="4.4" height="4.4" transform="rotate(-26 1500.7 151.8)"/><rect x="1509.3" y="144.4" width="4.4" height="4.4" transform="rotate(-26 1511.5 146.6)"/><rect x="1520.1" y="139.2" width="4.4" height="4.4" transform="rotate(-26 1522.3 141.4)"/><rect x="1530.9" y="134.0" width="4.4" height="4.4" transform="rotate(-26 1533.1 136.2)"/><rect x="1541.7" y="128.8" width="4.4" height="4.4" transform="rotate(-26 1543.9 131.0)"/><rect x="1552.5" y="123.6" width="4.4" height="4.4" transform="rotate(-26 1554.7 125.8)"/></g>
<path d="M342.5 28V796" stroke="#3fc1d0" stroke-width="1" stroke-dasharray="1 2" fill="none"/>
<path d="M735.5 28V796" stroke="#3fc1d0" stroke-width="1" stroke-dasharray="1 2" fill="none"/>
<path d="M1118.5 28V796" stroke="#3fc1d0" stroke-width="1" stroke-dasharray="1 2" fill="none"/>
<path d="M1517.5 28V796" stroke="#3fc1d0" stroke-width="1" stroke-dasharray="1 2" fill="none"/>
<path d="M11 154.5H1747" stroke="#3f8f86" stroke-opacity="0.6" stroke-width="1" stroke-dasharray="1 2" fill="none"/>
<path d="M1099 208.5H1169.4M1498 93.5H1532.5M1473 126.5H1575" stroke="#e8eaf0" stroke-width="1.2" stroke-dasharray="1.5 1.8" fill="none"/>
<rect x="1105.8" y="173" width="5.4" height="35" fill="#6c738c"/><rect x="1107.5" y="173" width="2" height="35" fill="#9aa0b4"/><path d="M1103.5 177.5L1108.5 172.5L1113.5 177.5" stroke="#6f758c" stroke-width="1.1" fill="none"/>
<rect x="1485.3" y="92" width="6.3" height="34.5" fill="#6c738c"/><rect x="1487.4" y="92" width="2.2" height="34.5" fill="#9aa0b4"/><path d="M1483 96L1488.5 91L1494 96" stroke="#6f758c" stroke-width="1.1" fill="none"/>
<path d="M342 733.5H417.5" stroke="#6c6e75" stroke-width="2.2" fill="none"/><path d="M407.0 724.0L418.5 733.5L407.0 743.5" stroke="#6c6e75" stroke-width="2" fill="none"/>
<path d="M734 529H809" stroke="#6c6e75" stroke-width="2.9" fill="none"/><path d="M798.5 519.5L810 529L798.5 539" stroke="#6c6e75" stroke-width="2" fill="none"/>
<path d="M1118.4 394H1165.8" stroke="#6c6e75" stroke-width="1.8" fill="none"/><path d="M1155.3 384.5L1166.8 394L1155.3 404" stroke="#6c6e75" stroke-width="2" fill="none"/>
<path d="M1516 256H1563.4" stroke="#6c6e75" stroke-width="4" fill="none"/><path d="M1552.9 246.5L1564.4 256L1552.9 266" stroke="#6c6e75" stroke-width="2" fill="none"/>
<path d="M1516.5 252V260" stroke="#6c6e75" stroke-width="1.5" fill="none"/>
<path d="M420.3 531.5L402.5 517.1L408.0 515.6L403.7 485.4L405.4 484.8L420.3 511.4L425.6 509.2Z" fill="#1bbbe0"/>
<path d="M810.3 309.6L791.5 296.4L796.9 294.6L795.8 277.3L797.4 276.6L808.9 289.6L814.0 287.0Z" fill="#1bbbe0"/>
<path d="M1162.5 183.7L1143.9 170.3L1149.4 168.5L1143.3 138.6L1145.0 137.9L1161.4 163.6L1166.5 161.1Z" fill="#1bbbe0"/>
<path d="M1552.8 111.5L1533.6 98.9L1539.0 96.9L1531.6 67.3L1533.2 66.6L1550.8 91.5L1555.8 88.8Z" fill="#1bbbe0"/>
<rect x="335" y="678" width="90" height="45" rx="3.5" fill="#5a82be"/><text x="343.7" y="693.8" textLength="72" lengthAdjust="spacingAndGlyphs" font-size="12" font-weight="bold" fill="#ffffff">41 bars, 287d</text><text x="353.8" y="713.8" textLength="53.3" lengthAdjust="spacingAndGlyphs" font-size="12" font-weight="bold" fill="#ffffff">Vol 4.05 M</text>
<rect x="728" y="541" width="90" height="45" rx="3.5" fill="#5a82be"/><text x="736.5" y="556.8" textLength="72.5" lengthAdjust="spacingAndGlyphs" font-size="12" font-weight="bold" fill="#ffffff">40 bars, 280d</text><text x="743.5" y="576.8" textLength="59.5" lengthAdjust="spacingAndGlyphs" font-size="12" font-weight="bold" fill="#ffffff">Vol 11.13 M</text>
<rect x="1098" y="405" width="90" height="44.6" rx="3.5" fill="#5a82be"/><text x="1107" y="420.7" textLength="72" lengthAdjust="spacingAndGlyphs" font-size="12" font-weight="bold" fill="#ffffff">25 bars, 175d</text><text x="1116.5" y="440.6" textLength="53.4" lengthAdjust="spacingAndGlyphs" font-size="12" font-weight="bold" fill="#ffffff">Vol 4.31 M</text>
<rect x="1495" y="269" width="90" height="24.8" rx="3.5" fill="#5a82be"/><text x="1503.8" y="284.9" textLength="72" lengthAdjust="spacingAndGlyphs" font-size="12" font-weight="bold" fill="#ffffff">25 bars, 175d</text>
<rect x="1020" y="138" width="176" height="24.5" rx="3.5" fill="#5a82be"/><text x="1028.6" y="154.3" textLength="158.6" lengthAdjust="spacingAndGlyphs" font-size="12" font-weight="bold" fill="#ffffff">24,491.82 (54.00%) 2,449,182</text>
<rect x="1400" y="56" width="176.5" height="24.5" rx="3.5" fill="#5a82be"/><text x="1408.5" y="72.3" textLength="159" lengthAdjust="spacingAndGlyphs" font-size="12" font-weight="bold" fill="#ffffff">67,645.08 (54.00%) 6,764,508</text>
<path d="M1747.5 28V823M11 796.5H1824" stroke="#2d3038" stroke-width="1" fill="none"/>
<text x="1756.6" y="65.4" font-size="12" fill="#b2b5be" textLength="58.4" lengthAdjust="spacingAndGlyphs">280,000.00</text>
<text x="1756.6" y="101.4" font-size="12" fill="#b2b5be" textLength="58.4" lengthAdjust="spacingAndGlyphs">180,000.00</text>
<text x="1756.6" y="133.4" font-size="12" fill="#b2b5be" textLength="58.4" lengthAdjust="spacingAndGlyphs">120,000.00</text>
<text x="1756.6" y="166.4" font-size="12" fill="#b2b5be" textLength="51.9" lengthAdjust="spacingAndGlyphs">80,000.00</text>
<text x="1756.6" y="200.4" font-size="12" fill="#b2b5be" textLength="51.9" lengthAdjust="spacingAndGlyphs">52,000.00</text>
<text x="1756.6" y="233.4" font-size="12" fill="#b2b5be" textLength="51.9" lengthAdjust="spacingAndGlyphs">34,500.00</text>
<text x="1756.6" y="267.4" font-size="12" fill="#b2b5be" textLength="51.9" lengthAdjust="spacingAndGlyphs">22,500.00</text>
<text x="1756.6" y="302.4" font-size="12" fill="#b2b5be" textLength="51.9" lengthAdjust="spacingAndGlyphs">14,500.00</text>
<text x="1756.6" y="336.4" font-size="12" fill="#b2b5be" textLength="45.4" lengthAdjust="spacingAndGlyphs">9,500.00</text>
<text x="1756.6" y="369.4" font-size="12" fill="#b2b5be" textLength="45.4" lengthAdjust="spacingAndGlyphs">6,300.00</text>
<text x="1756.6" y="399.4" font-size="12" fill="#b2b5be" textLength="45.4" lengthAdjust="spacingAndGlyphs">4,300.00</text>
<text x="1756.6" y="431.4" font-size="12" fill="#b2b5be" textLength="45.4" lengthAdjust="spacingAndGlyphs">2,900.00</text>
<text x="1756.6" y="464.4" font-size="12" fill="#b2b5be" textLength="45.4" lengthAdjust="spacingAndGlyphs">1,900.00</text>
<text x="1756.6" y="495.4" font-size="12" fill="#b2b5be" textLength="45.4" lengthAdjust="spacingAndGlyphs">1,300.00</text>
<text x="1756.6" y="529.4" font-size="12" fill="#b2b5be" textLength="35.7" lengthAdjust="spacingAndGlyphs">850.00</text>
<text x="1756.6" y="561.4" font-size="12" fill="#b2b5be" textLength="35.7" lengthAdjust="spacingAndGlyphs">570.00</text>
<text x="1756.6" y="595.4" font-size="12" fill="#b2b5be" textLength="35.7" lengthAdjust="spacingAndGlyphs">370.00</text>
<text x="1756.6" y="626.4" font-size="12" fill="#b2b5be" textLength="35.7" lengthAdjust="spacingAndGlyphs">250.00</text>
<text x="1756.6" y="657.4" font-size="12" fill="#b2b5be" textLength="35.7" lengthAdjust="spacingAndGlyphs">170.00</text>
<text x="1756.6" y="692.4" font-size="12" fill="#b2b5be" textLength="35.7" lengthAdjust="spacingAndGlyphs">110.00</text>
<text x="1756.6" y="724.4" font-size="12" fill="#b2b5be" textLength="29.2" lengthAdjust="spacingAndGlyphs">74.00</text>
<text x="1756.6" y="755.4" font-size="12" fill="#b2b5be" textLength="29.2" lengthAdjust="spacingAndGlyphs">50.00</text>
<text x="1756.6" y="786.4" font-size="12" fill="#b2b5be" textLength="29.2" lengthAdjust="spacingAndGlyphs">34.00</text>
<rect x="1748" y="146" width="66" height="17" fill="#0a8c3f"/><text x="1755.7" y="158" font-size="12" font-weight="bold" fill="#fff" textLength="53.4" lengthAdjust="spacingAndGlyphs">87,919.55</text>
<rect x="1748" y="28" width="76" height="32.3" fill="#131722"/>
<rect x="1750.5" y="30.5" width="71" height="27" rx="4" fill="#0f0f0f" stroke="#3a3e4a" stroke-width="1"/><text x="1760" y="48.5" font-size="12" font-weight="bold" fill="#e6e6e6" textLength="21" lengthAdjust="spacingAndGlyphs">USD</text>
<text x="62.1" y="814" font-size="12" font-weight="bold" fill="#b2b5be" text-anchor="middle" textLength="27" lengthAdjust="spacingAndGlyphs">2011</text>
<text x="157.1" y="814" font-size="12" font-weight="bold" fill="#b2b5be" text-anchor="middle" textLength="27" lengthAdjust="spacingAndGlyphs">2012</text>
<text x="256.1" y="814" font-size="12" font-weight="bold" fill="#b2b5be" text-anchor="middle" textLength="27" lengthAdjust="spacingAndGlyphs">2013</text>
<text x="450.1" y="814" font-size="12" font-weight="bold" fill="#b2b5be" text-anchor="middle" textLength="27" lengthAdjust="spacingAndGlyphs">2015</text>
<text x="547.1" y="814" font-size="12" font-weight="bold" fill="#b2b5be" text-anchor="middle" textLength="27" lengthAdjust="spacingAndGlyphs">2016</text>
<text x="644.1" y="814" font-size="12" font-weight="bold" fill="#b2b5be" text-anchor="middle" textLength="27" lengthAdjust="spacingAndGlyphs">2017</text>
<text x="840.1" y="814" font-size="12" font-weight="bold" fill="#b2b5be" text-anchor="middle" textLength="27" lengthAdjust="spacingAndGlyphs">2019</text>
<text x="937.1" y="814" font-size="12" font-weight="bold" fill="#b2b5be" text-anchor="middle" textLength="27" lengthAdjust="spacingAndGlyphs">2020</text>
<text x="1034.1" y="814" font-size="12" font-weight="bold" fill="#b2b5be" text-anchor="middle" textLength="27" lengthAdjust="spacingAndGlyphs">2021</text>
<text x="1228.1" y="814" font-size="12" font-weight="bold" fill="#b2b5be" text-anchor="middle" textLength="27" lengthAdjust="spacingAndGlyphs">2023</text>
<text x="1325.1" y="814" font-size="12" font-weight="bold" fill="#b2b5be" text-anchor="middle" textLength="27" lengthAdjust="spacingAndGlyphs">2024</text>
<text x="1423.1" y="814" font-size="12" font-weight="bold" fill="#b2b5be" text-anchor="middle" textLength="27" lengthAdjust="spacingAndGlyphs">2025</text>
<text x="1617.1" y="814" font-size="12" font-weight="bold" fill="#b2b5be" text-anchor="middle" textLength="27" lengthAdjust="spacingAndGlyphs">2027</text>
<text x="1714.1" y="814" font-size="12" font-weight="bold" fill="#b2b5be" text-anchor="middle" textLength="27" lengthAdjust="spacingAndGlyphs">2028</text>
<rect x="294.0" y="796" width="97" height="24" fill="#15bedd"/><text x="302.2" y="814.6" font-size="12" fill="#131722" textLength="79" lengthAdjust="spacingAndGlyphs">Mon 25 Nov '13</text>
<rect x="687.0" y="796" width="97" height="24" fill="#15bedd"/><text x="695.2" y="814.6" font-size="12" fill="#131722" textLength="79" lengthAdjust="spacingAndGlyphs">Mon 11 Dec '17</text>
<rect x="1070.0" y="796" width="97" height="24" fill="#15bedd"/><text x="1078.2" y="814.6" font-size="12" fill="#131722" textLength="79" lengthAdjust="spacingAndGlyphs">Mon 15 Nov '21</text>
<rect x="1469.0" y="796" width="97" height="24" fill="#15bedd"/><text x="1477.2" y="814.6" font-size="12" fill="#131722" textLength="79" lengthAdjust="spacingAndGlyphs">Mon 22 Dec '25</text>
<text x="18" y="45.7" font-size="12" fill="#c6c9d1" textLength="179.8" lengthAdjust="spacingAndGlyphs">Bitcoin / U.S. Dollar · 1W · INDEX</text>
<text x="205.7" y="45.7" font-size="12" fill="#c6c9d1">O</text>
<text x="213.3" y="45.7" font-size="12" fill="#f2555c" textLength="52.4" lengthAdjust="spacingAndGlyphs">88,171.57</text>
<text x="273.3" y="45.7" font-size="12" fill="#c6c9d1">H</text>
<text x="281.4" y="45.7" font-size="12" fill="#f2555c" textLength="52.4" lengthAdjust="spacingAndGlyphs">94,468.05</text>
<text x="342" y="45.7" font-size="12" fill="#c6c9d1">L</text>
<text x="347.5" y="45.7" font-size="12" fill="#f2555c" textLength="52" lengthAdjust="spacingAndGlyphs">81,463.63</text>
<text x="407.7" y="45.7" font-size="12" fill="#c6c9d1">C</text>
<text x="415" y="45.7" font-size="12" fill="#f2555c" textLength="52.4" lengthAdjust="spacingAndGlyphs">87,919.55</text>
<text x="474.7" y="45.7" font-size="12" fill="#f2555c" textLength="101.7" lengthAdjust="spacingAndGlyphs">−6,402.82 (−6.79%)</text>
<text x="18" y="63.1" font-size="12" fill="#c6c9d1" textLength="158.6" lengthAdjust="spacingAndGlyphs">GC [DW] (hlc3, 4, 144, 1.414)</text>
<text x="184.4" y="63.1" font-size="12" fill="#25e86e" textLength="52.3" lengthAdjust="spacingAndGlyphs">62,578.69</text>
<text x="244.4" y="63.1" font-size="12" fill="#25e86e" textLength="52.3" lengthAdjust="spacingAndGlyphs">72,376.24</text>
<text x="304.7" y="63.1" font-size="12" fill="#25e86e" textLength="52.7" lengthAdjust="spacingAndGlyphs">52,781.14</text>
<text x="9.8" y="18.9" font-size="12" fill="#efefef" textLength="413.5" lengthAdjust="spacingAndGlyphs">christophercolumbus published on TradingView.com, Mar 05, 2025 08:44 UTC</text>
<circle cx="1438.4" cy="783.3" r="10.2" fill="none" stroke="#be6ec8" stroke-width="1.3"/><path d="M1440.5 776l-6 8h4l-1.5 6 6-8h-4z" fill="#b44fc4"/><circle cx="1445.6" cy="776.4" r="3.1" fill="#f04b55" stroke="#131722" stroke-width="1"/>
<g fill="#d4d4d4"><path d="M9.9 836.1h8.3v9.9h-4.5v-6.3h-3.8z"/><circle cx="20.8" cy="838.2" r="2.1"/><path d="M20.6 846l3.2-9.9h6l-3.9 9.9z"/></g>
<text x="33" y="846" font-size="13" font-weight="bold" fill="#cfcfcf" textLength="70.4" lengthAdjust="spacingAndGlyphs">TradingView</text>
</g>
</svg>
</body></html>
